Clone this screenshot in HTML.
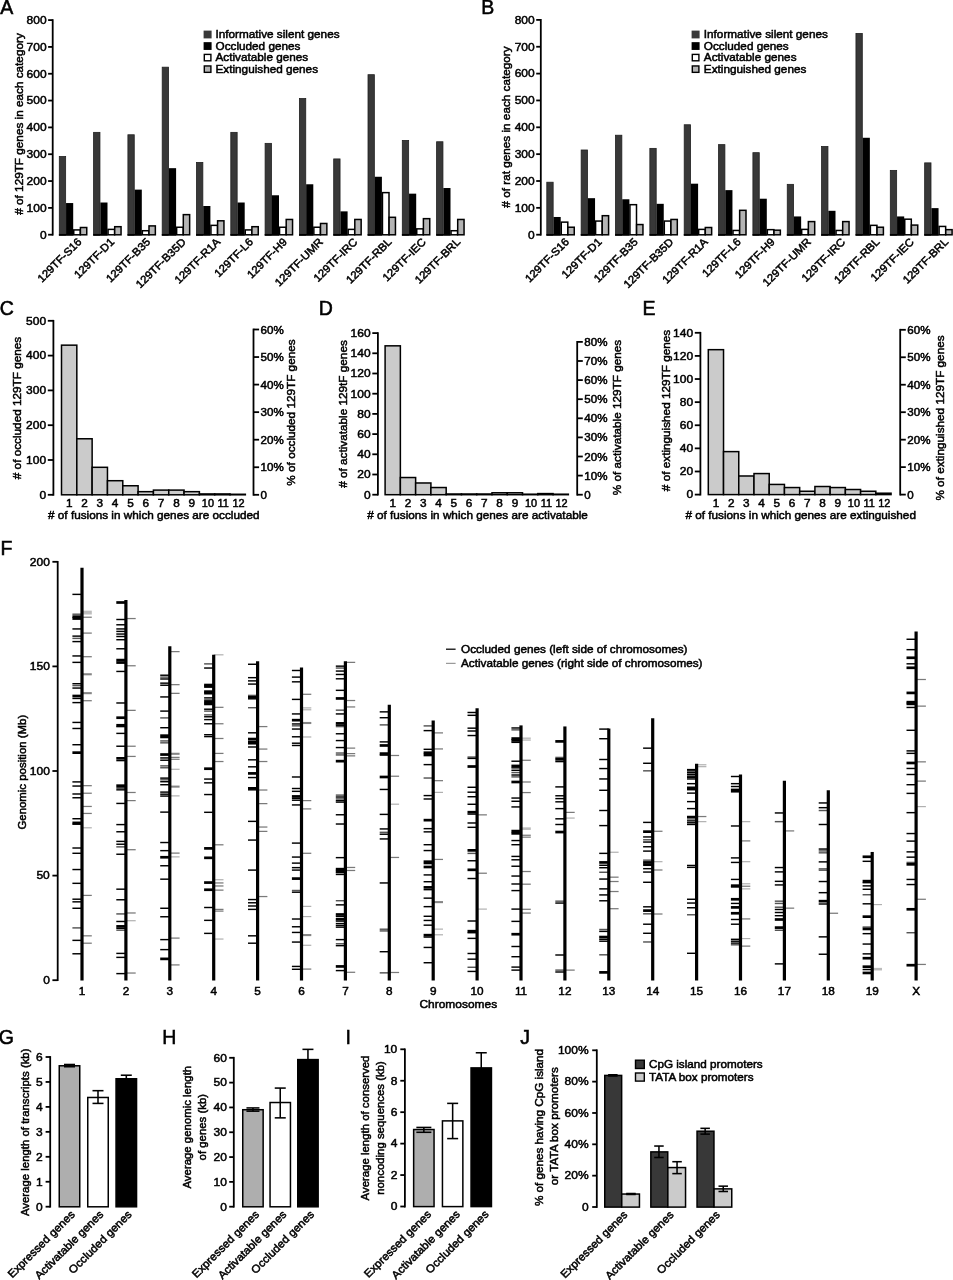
<!DOCTYPE html>
<html><head><meta charset="utf-8"><title>Figure</title>
<style>
html,body{margin:0;padding:0;background:#fff;}
svg{display:block;will-change:transform;filter:grayscale(1);}
text{font-family:"Liberation Sans",sans-serif;font-size:11.19px;fill:#000;stroke:#000;stroke-width:0.5px;}
text.pl{stroke-width:0.55px;}
</style></head><body>
<svg width="953" height="1280" viewBox="0 0 953 1280">
<rect x="0" y="0" width="953" height="1280" fill="#fff"/>
<text transform="translate(0.20 13.50)" style="font-size:19.50px" text-anchor="start" class="pl">A</text>
<rect x="59.30" y="156.50" width="6.35" height="79.05" fill="#383838" stroke="#202020" stroke-width="0.8"/>
<rect x="66.05" y="203.05" width="7.15" height="32.50" fill="#000"/>
<rect x="73.75" y="229.92" width="6.55" height="4.88" fill="#fff" stroke="#000" stroke-width="1.5"/>
<rect x="80.40" y="227.51" width="6.35" height="7.29" fill="#b4b4b4" stroke="#000" stroke-width="1.5"/>
<line x1="58.90" y1="234.75" x2="73.20" y2="234.75" stroke="#000" stroke-width="1.6"/>
<text transform="translate(82.30 242.60) rotate(-45) scale(1.0500 1)" style="font-size:10.90px" text-anchor="end">129TF-S16</text>
<rect x="93.60" y="132.36" width="6.35" height="103.19" fill="#383838" stroke="#202020" stroke-width="0.8"/>
<rect x="100.35" y="202.51" width="7.15" height="33.04" fill="#000"/>
<rect x="108.05" y="229.38" width="6.55" height="5.41" fill="#fff" stroke="#000" stroke-width="1.5"/>
<rect x="114.70" y="226.70" width="6.35" height="8.10" fill="#b4b4b4" stroke="#000" stroke-width="1.5"/>
<line x1="93.20" y1="234.75" x2="107.50" y2="234.75" stroke="#000" stroke-width="1.6"/>
<text transform="translate(114.90 242.60) rotate(-45) scale(1.0500 1)" style="font-size:10.90px" text-anchor="end">129TF-D1</text>
<rect x="127.90" y="134.77" width="6.35" height="100.78" fill="#383838" stroke="#202020" stroke-width="0.8"/>
<rect x="134.65" y="189.63" width="7.15" height="45.92" fill="#000"/>
<rect x="142.35" y="230.73" width="6.55" height="4.07" fill="#fff" stroke="#000" stroke-width="1.5"/>
<rect x="149.00" y="225.90" width="6.35" height="8.90" fill="#b4b4b4" stroke="#000" stroke-width="1.5"/>
<line x1="127.50" y1="234.75" x2="141.80" y2="234.75" stroke="#000" stroke-width="1.6"/>
<text transform="translate(151.00 242.60) rotate(-45) scale(1.0500 1)" style="font-size:10.90px" text-anchor="end">129TF-B35</text>
<rect x="162.20" y="67.18" width="6.35" height="168.37" fill="#383838" stroke="#202020" stroke-width="0.8"/>
<rect x="168.95" y="168.17" width="7.15" height="67.38" fill="#000"/>
<rect x="176.65" y="227.24" width="6.55" height="7.56" fill="#fff" stroke="#000" stroke-width="1.5"/>
<rect x="183.30" y="214.63" width="6.35" height="20.17" fill="#b4b4b4" stroke="#000" stroke-width="1.5"/>
<line x1="161.80" y1="234.75" x2="176.10" y2="234.75" stroke="#000" stroke-width="1.6"/>
<text transform="translate(186.50 242.60) rotate(-45) scale(1.0500 1)" style="font-size:10.90px" text-anchor="end">129TF-B35D</text>
<rect x="196.50" y="162.40" width="6.35" height="73.15" fill="#383838" stroke="#202020" stroke-width="0.8"/>
<rect x="203.25" y="206.00" width="7.15" height="29.55" fill="#000"/>
<rect x="210.95" y="225.36" width="6.55" height="9.44" fill="#fff" stroke="#000" stroke-width="1.5"/>
<rect x="217.60" y="220.80" width="6.35" height="14.00" fill="#b4b4b4" stroke="#000" stroke-width="1.5"/>
<line x1="196.10" y1="234.75" x2="210.40" y2="234.75" stroke="#000" stroke-width="1.6"/>
<text transform="translate(220.80 242.60) rotate(-45) scale(1.0500 1)" style="font-size:10.90px" text-anchor="end">129TF-R1A</text>
<rect x="230.80" y="132.36" width="6.35" height="103.19" fill="#383838" stroke="#202020" stroke-width="0.8"/>
<rect x="237.55" y="202.51" width="7.15" height="33.04" fill="#000"/>
<rect x="245.25" y="229.92" width="6.55" height="4.88" fill="#fff" stroke="#000" stroke-width="1.5"/>
<rect x="251.90" y="226.70" width="6.35" height="8.10" fill="#b4b4b4" stroke="#000" stroke-width="1.5"/>
<line x1="230.40" y1="234.75" x2="244.70" y2="234.75" stroke="#000" stroke-width="1.6"/>
<text transform="translate(253.80 242.60) rotate(-45) scale(1.0500 1)" style="font-size:10.90px" text-anchor="end">129TF-L6</text>
<rect x="265.10" y="143.36" width="6.35" height="92.19" fill="#383838" stroke="#202020" stroke-width="0.8"/>
<rect x="271.85" y="195.27" width="7.15" height="40.28" fill="#000"/>
<rect x="279.55" y="227.24" width="6.55" height="7.56" fill="#fff" stroke="#000" stroke-width="1.5"/>
<rect x="286.20" y="219.46" width="6.35" height="15.34" fill="#b4b4b4" stroke="#000" stroke-width="1.5"/>
<line x1="264.70" y1="234.75" x2="279.00" y2="234.75" stroke="#000" stroke-width="1.6"/>
<text transform="translate(287.80 242.60) rotate(-45) scale(1.0500 1)" style="font-size:10.90px" text-anchor="end">129TF-H9</text>
<rect x="299.40" y="98.56" width="6.35" height="136.99" fill="#383838" stroke="#202020" stroke-width="0.8"/>
<rect x="306.15" y="184.27" width="7.15" height="51.28" fill="#000"/>
<rect x="313.85" y="227.24" width="6.55" height="7.56" fill="#fff" stroke="#000" stroke-width="1.5"/>
<rect x="320.50" y="223.48" width="6.35" height="11.32" fill="#b4b4b4" stroke="#000" stroke-width="1.5"/>
<line x1="299.00" y1="234.75" x2="313.30" y2="234.75" stroke="#000" stroke-width="1.6"/>
<text transform="translate(323.70 242.60) rotate(-45) scale(1.0500 1)" style="font-size:10.90px" text-anchor="end">129TF-UMR</text>
<rect x="333.70" y="158.92" width="6.35" height="76.63" fill="#383838" stroke="#202020" stroke-width="0.8"/>
<rect x="340.45" y="211.36" width="7.15" height="24.19" fill="#000"/>
<rect x="348.15" y="229.38" width="6.55" height="5.41" fill="#fff" stroke="#000" stroke-width="1.5"/>
<rect x="354.80" y="219.46" width="6.35" height="15.34" fill="#b4b4b4" stroke="#000" stroke-width="1.5"/>
<line x1="333.30" y1="234.75" x2="347.60" y2="234.75" stroke="#000" stroke-width="1.6"/>
<text transform="translate(358.00 242.60) rotate(-45) scale(1.0500 1)" style="font-size:10.90px" text-anchor="end">129TF-IRC</text>
<rect x="368.00" y="74.69" width="6.35" height="160.86" fill="#383838" stroke="#202020" stroke-width="0.8"/>
<rect x="374.75" y="176.76" width="7.15" height="58.79" fill="#000"/>
<rect x="382.45" y="192.63" width="6.55" height="42.17" fill="#fff" stroke="#000" stroke-width="1.5"/>
<rect x="389.10" y="217.31" width="6.35" height="17.49" fill="#b4b4b4" stroke="#000" stroke-width="1.5"/>
<line x1="367.60" y1="234.75" x2="381.90" y2="234.75" stroke="#000" stroke-width="1.6"/>
<text transform="translate(392.30 242.60) rotate(-45) scale(1.0500 1)" style="font-size:10.90px" text-anchor="end">129TF-RBL</text>
<rect x="402.30" y="140.41" width="6.35" height="95.14" fill="#383838" stroke="#202020" stroke-width="0.8"/>
<rect x="409.05" y="193.66" width="7.15" height="41.89" fill="#000"/>
<rect x="416.75" y="228.85" width="6.55" height="5.95" fill="#fff" stroke="#000" stroke-width="1.5"/>
<rect x="423.40" y="218.66" width="6.35" height="16.14" fill="#b4b4b4" stroke="#000" stroke-width="1.5"/>
<line x1="401.90" y1="234.75" x2="416.20" y2="234.75" stroke="#000" stroke-width="1.6"/>
<text transform="translate(426.60 242.60) rotate(-45) scale(1.0500 1)" style="font-size:10.90px" text-anchor="end">129TF-IEC</text>
<rect x="436.60" y="141.75" width="6.35" height="93.80" fill="#383838" stroke="#202020" stroke-width="0.8"/>
<rect x="443.35" y="188.02" width="7.15" height="47.53" fill="#000"/>
<rect x="451.05" y="230.73" width="6.55" height="4.07" fill="#fff" stroke="#000" stroke-width="1.5"/>
<rect x="457.70" y="219.46" width="6.35" height="15.34" fill="#b4b4b4" stroke="#000" stroke-width="1.5"/>
<line x1="436.20" y1="234.75" x2="450.50" y2="234.75" stroke="#000" stroke-width="1.6"/>
<text transform="translate(460.90 242.60) rotate(-45) scale(1.0500 1)" style="font-size:10.90px" text-anchor="end">129TF-BRL</text>
<line x1="52.70" y1="19.20" x2="52.70" y2="235.60" stroke="#000" stroke-width="1.8"/>
<line x1="48.10" y1="234.70" x2="52.70" y2="234.70" stroke="#000" stroke-width="1.8"/>
<text transform="translate(46.60 238.50) scale(1.0500 1)" style="font-size:11.43px" text-anchor="end">0</text>
<line x1="48.10" y1="207.88" x2="52.70" y2="207.88" stroke="#000" stroke-width="1.8"/>
<text transform="translate(46.60 211.68) scale(1.0500 1)" style="font-size:11.43px" text-anchor="end">100</text>
<line x1="48.10" y1="181.05" x2="52.70" y2="181.05" stroke="#000" stroke-width="1.8"/>
<text transform="translate(46.60 184.85) scale(1.0500 1)" style="font-size:11.43px" text-anchor="end">200</text>
<line x1="48.10" y1="154.22" x2="52.70" y2="154.22" stroke="#000" stroke-width="1.8"/>
<text transform="translate(46.60 158.03) scale(1.0500 1)" style="font-size:11.43px" text-anchor="end">300</text>
<line x1="48.10" y1="127.40" x2="52.70" y2="127.40" stroke="#000" stroke-width="1.8"/>
<text transform="translate(46.60 131.20) scale(1.0500 1)" style="font-size:11.43px" text-anchor="end">400</text>
<line x1="48.10" y1="100.57" x2="52.70" y2="100.57" stroke="#000" stroke-width="1.8"/>
<text transform="translate(46.60 104.37) scale(1.0500 1)" style="font-size:11.43px" text-anchor="end">500</text>
<line x1="48.10" y1="73.75" x2="52.70" y2="73.75" stroke="#000" stroke-width="1.8"/>
<text transform="translate(46.60 77.55) scale(1.0500 1)" style="font-size:11.43px" text-anchor="end">600</text>
<line x1="48.10" y1="46.92" x2="52.70" y2="46.92" stroke="#000" stroke-width="1.8"/>
<text transform="translate(46.60 50.72) scale(1.0500 1)" style="font-size:11.43px" text-anchor="end">700</text>
<line x1="48.10" y1="20.10" x2="52.70" y2="20.10" stroke="#000" stroke-width="1.8"/>
<text transform="translate(46.60 23.90) scale(1.0500 1)" style="font-size:11.43px" text-anchor="end">800</text>
<text transform="translate(22.60 124.00) rotate(-90) scale(1.0500 1)" text-anchor="middle"># of 129TF genes in each category</text>
<rect x="203.60" y="30.60" width="8.00" height="7.80" fill="#383838"/>
<text transform="translate(215.50 38.35) scale(1.0500 1)" text-anchor="start">Informative silent genes</text>
<rect x="203.60" y="42.15" width="8.00" height="7.80" fill="#000"/>
<text transform="translate(215.50 49.90) scale(1.0500 1)" text-anchor="start">Occluded genes</text>
<rect x="204.30" y="54.40" width="6.60" height="6.40" fill="#fff" stroke="#000" stroke-width="1.4"/>
<text transform="translate(215.50 61.45) scale(1.0500 1)" text-anchor="start">Activatable genes</text>
<rect x="204.30" y="65.95" width="6.60" height="6.40" fill="#b4b4b4" stroke="#000" stroke-width="1.4"/>
<text transform="translate(215.50 73.00) scale(1.0500 1)" text-anchor="start">Extinguished genes</text>
<text transform="translate(481.20 13.60)" style="font-size:19.50px" text-anchor="start" class="pl">B</text>
<rect x="546.80" y="182.21" width="6.35" height="53.34" fill="#383838" stroke="#202020" stroke-width="0.8"/>
<rect x="553.55" y="216.98" width="7.15" height="18.57" fill="#000"/>
<rect x="561.25" y="222.13" width="6.55" height="12.67" fill="#fff" stroke="#000" stroke-width="1.5"/>
<rect x="567.90" y="227.23" width="6.35" height="7.57" fill="#b4b4b4" stroke="#000" stroke-width="1.5"/>
<line x1="546.40" y1="234.75" x2="560.70" y2="234.75" stroke="#000" stroke-width="1.6"/>
<text transform="translate(569.80 242.60) rotate(-45) scale(1.0500 1)" style="font-size:10.90px" text-anchor="end">129TF-S16</text>
<rect x="581.15" y="149.99" width="6.35" height="85.56" fill="#383838" stroke="#202020" stroke-width="0.8"/>
<rect x="587.90" y="198.18" width="7.15" height="37.37" fill="#000"/>
<rect x="595.60" y="221.06" width="6.55" height="13.74" fill="#fff" stroke="#000" stroke-width="1.5"/>
<rect x="602.25" y="215.69" width="6.35" height="19.11" fill="#b4b4b4" stroke="#000" stroke-width="1.5"/>
<line x1="580.75" y1="234.75" x2="595.05" y2="234.75" stroke="#000" stroke-width="1.6"/>
<text transform="translate(602.45 242.60) rotate(-45) scale(1.0500 1)" style="font-size:10.90px" text-anchor="end">129TF-D1</text>
<rect x="615.50" y="135.22" width="6.35" height="100.33" fill="#383838" stroke="#202020" stroke-width="0.8"/>
<rect x="622.25" y="199.26" width="7.15" height="36.29" fill="#000"/>
<rect x="629.95" y="204.68" width="6.55" height="30.12" fill="#fff" stroke="#000" stroke-width="1.5"/>
<rect x="636.60" y="224.55" width="6.35" height="10.25" fill="#b4b4b4" stroke="#000" stroke-width="1.5"/>
<line x1="615.10" y1="234.75" x2="629.40" y2="234.75" stroke="#000" stroke-width="1.6"/>
<text transform="translate(638.60 242.60) rotate(-45) scale(1.0500 1)" style="font-size:10.90px" text-anchor="end">129TF-B35</text>
<rect x="649.85" y="148.37" width="6.35" height="87.18" fill="#383838" stroke="#202020" stroke-width="0.8"/>
<rect x="656.60" y="203.82" width="7.15" height="31.73" fill="#000"/>
<rect x="664.30" y="221.06" width="6.55" height="13.74" fill="#fff" stroke="#000" stroke-width="1.5"/>
<rect x="670.95" y="219.45" width="6.35" height="15.35" fill="#b4b4b4" stroke="#000" stroke-width="1.5"/>
<line x1="649.45" y1="234.75" x2="663.75" y2="234.75" stroke="#000" stroke-width="1.6"/>
<text transform="translate(674.15 242.60) rotate(-45) scale(1.0500 1)" style="font-size:10.90px" text-anchor="end">129TF-B35D</text>
<rect x="684.20" y="124.75" width="6.35" height="110.80" fill="#383838" stroke="#202020" stroke-width="0.8"/>
<rect x="690.95" y="183.69" width="7.15" height="51.86" fill="#000"/>
<rect x="698.65" y="229.38" width="6.55" height="5.42" fill="#fff" stroke="#000" stroke-width="1.5"/>
<rect x="705.30" y="227.50" width="6.35" height="7.30" fill="#b4b4b4" stroke="#000" stroke-width="1.5"/>
<line x1="683.80" y1="234.75" x2="698.10" y2="234.75" stroke="#000" stroke-width="1.6"/>
<text transform="translate(708.50 242.60) rotate(-45) scale(1.0500 1)" style="font-size:10.90px" text-anchor="end">129TF-R1A</text>
<rect x="718.55" y="144.62" width="6.35" height="90.93" fill="#383838" stroke="#202020" stroke-width="0.8"/>
<rect x="725.30" y="190.13" width="7.15" height="45.42" fill="#000"/>
<rect x="733.00" y="230.45" width="6.55" height="4.35" fill="#fff" stroke="#000" stroke-width="1.5"/>
<rect x="739.65" y="210.32" width="6.35" height="24.48" fill="#b4b4b4" stroke="#000" stroke-width="1.5"/>
<line x1="718.15" y1="234.75" x2="732.45" y2="234.75" stroke="#000" stroke-width="1.6"/>
<text transform="translate(741.55 242.60) rotate(-45) scale(1.0500 1)" style="font-size:10.90px" text-anchor="end">129TF-L6</text>
<rect x="752.90" y="152.67" width="6.35" height="82.88" fill="#383838" stroke="#202020" stroke-width="0.8"/>
<rect x="759.65" y="198.72" width="7.15" height="36.83" fill="#000"/>
<rect x="767.35" y="229.65" width="6.55" height="5.15" fill="#fff" stroke="#000" stroke-width="1.5"/>
<rect x="774.00" y="230.19" width="6.35" height="4.61" fill="#b4b4b4" stroke="#000" stroke-width="1.5"/>
<line x1="752.50" y1="234.75" x2="766.80" y2="234.75" stroke="#000" stroke-width="1.6"/>
<text transform="translate(775.60 242.60) rotate(-45) scale(1.0500 1)" style="font-size:10.90px" text-anchor="end">129TF-H9</text>
<rect x="787.25" y="184.35" width="6.35" height="51.20" fill="#383838" stroke="#202020" stroke-width="0.8"/>
<rect x="794.00" y="216.44" width="7.15" height="19.11" fill="#000"/>
<rect x="801.70" y="229.38" width="6.55" height="5.42" fill="#fff" stroke="#000" stroke-width="1.5"/>
<rect x="808.35" y="221.59" width="6.35" height="13.21" fill="#b4b4b4" stroke="#000" stroke-width="1.5"/>
<line x1="786.85" y1="234.75" x2="801.15" y2="234.75" stroke="#000" stroke-width="1.6"/>
<text transform="translate(811.55 242.60) rotate(-45) scale(1.0500 1)" style="font-size:10.90px" text-anchor="end">129TF-UMR</text>
<rect x="821.60" y="146.50" width="6.35" height="89.05" fill="#383838" stroke="#202020" stroke-width="0.8"/>
<rect x="828.35" y="210.80" width="7.15" height="24.75" fill="#000"/>
<rect x="836.05" y="230.45" width="6.55" height="4.35" fill="#fff" stroke="#000" stroke-width="1.5"/>
<rect x="842.70" y="221.59" width="6.35" height="13.21" fill="#b4b4b4" stroke="#000" stroke-width="1.5"/>
<line x1="821.20" y1="234.75" x2="835.50" y2="234.75" stroke="#000" stroke-width="1.6"/>
<text transform="translate(845.90 242.60) rotate(-45) scale(1.0500 1)" style="font-size:10.90px" text-anchor="end">129TF-IRC</text>
<rect x="855.95" y="33.46" width="6.35" height="202.09" fill="#383838" stroke="#202020" stroke-width="0.8"/>
<rect x="862.70" y="137.77" width="7.15" height="97.78" fill="#000"/>
<rect x="870.40" y="225.35" width="6.55" height="9.45" fill="#fff" stroke="#000" stroke-width="1.5"/>
<rect x="877.05" y="227.23" width="6.35" height="7.57" fill="#b4b4b4" stroke="#000" stroke-width="1.5"/>
<line x1="855.55" y1="234.75" x2="869.85" y2="234.75" stroke="#000" stroke-width="1.6"/>
<text transform="translate(880.25 242.60) rotate(-45) scale(1.0500 1)" style="font-size:10.90px" text-anchor="end">129TF-RBL</text>
<rect x="890.30" y="170.39" width="6.35" height="65.16" fill="#383838" stroke="#202020" stroke-width="0.8"/>
<rect x="897.05" y="216.44" width="7.15" height="19.11" fill="#000"/>
<rect x="904.75" y="219.18" width="6.55" height="15.62" fill="#fff" stroke="#000" stroke-width="1.5"/>
<rect x="911.40" y="225.08" width="6.35" height="9.72" fill="#b4b4b4" stroke="#000" stroke-width="1.5"/>
<line x1="889.90" y1="234.75" x2="904.20" y2="234.75" stroke="#000" stroke-width="1.6"/>
<text transform="translate(914.60 242.60) rotate(-45) scale(1.0500 1)" style="font-size:10.90px" text-anchor="end">129TF-IEC</text>
<rect x="924.65" y="162.87" width="6.35" height="72.68" fill="#383838" stroke="#202020" stroke-width="0.8"/>
<rect x="931.40" y="208.12" width="7.15" height="27.43" fill="#000"/>
<rect x="939.10" y="226.43" width="6.55" height="8.37" fill="#fff" stroke="#000" stroke-width="1.5"/>
<rect x="945.75" y="229.65" width="6.35" height="5.15" fill="#b4b4b4" stroke="#000" stroke-width="1.5"/>
<line x1="924.25" y1="234.75" x2="938.55" y2="234.75" stroke="#000" stroke-width="1.6"/>
<text transform="translate(948.95 242.60) rotate(-45) scale(1.0500 1)" style="font-size:10.90px" text-anchor="end">129TF-BRL</text>
<line x1="540.80" y1="19.00" x2="540.80" y2="235.60" stroke="#000" stroke-width="1.8"/>
<line x1="536.20" y1="234.70" x2="540.80" y2="234.70" stroke="#000" stroke-width="1.8"/>
<text transform="translate(534.70 238.50) scale(1.0500 1)" style="font-size:11.43px" text-anchor="end">0</text>
<line x1="536.20" y1="207.85" x2="540.80" y2="207.85" stroke="#000" stroke-width="1.8"/>
<text transform="translate(534.70 211.65) scale(1.0500 1)" style="font-size:11.43px" text-anchor="end">100</text>
<line x1="536.20" y1="181.00" x2="540.80" y2="181.00" stroke="#000" stroke-width="1.8"/>
<text transform="translate(534.70 184.80) scale(1.0500 1)" style="font-size:11.43px" text-anchor="end">200</text>
<line x1="536.20" y1="154.15" x2="540.80" y2="154.15" stroke="#000" stroke-width="1.8"/>
<text transform="translate(534.70 157.95) scale(1.0500 1)" style="font-size:11.43px" text-anchor="end">300</text>
<line x1="536.20" y1="127.30" x2="540.80" y2="127.30" stroke="#000" stroke-width="1.8"/>
<text transform="translate(534.70 131.10) scale(1.0500 1)" style="font-size:11.43px" text-anchor="end">400</text>
<line x1="536.20" y1="100.45" x2="540.80" y2="100.45" stroke="#000" stroke-width="1.8"/>
<text transform="translate(534.70 104.25) scale(1.0500 1)" style="font-size:11.43px" text-anchor="end">500</text>
<line x1="536.20" y1="73.60" x2="540.80" y2="73.60" stroke="#000" stroke-width="1.8"/>
<text transform="translate(534.70 77.40) scale(1.0500 1)" style="font-size:11.43px" text-anchor="end">600</text>
<line x1="536.20" y1="46.75" x2="540.80" y2="46.75" stroke="#000" stroke-width="1.8"/>
<text transform="translate(534.70 50.55) scale(1.0500 1)" style="font-size:11.43px" text-anchor="end">700</text>
<line x1="536.20" y1="19.90" x2="540.80" y2="19.90" stroke="#000" stroke-width="1.8"/>
<text transform="translate(534.70 23.70) scale(1.0500 1)" style="font-size:11.43px" text-anchor="end">800</text>
<text transform="translate(510.40 127.00) rotate(-90) scale(1.0500 1)" text-anchor="middle"># of rat genes in each category</text>
<rect x="691.60" y="30.60" width="8.00" height="7.80" fill="#383838"/>
<text transform="translate(703.80 38.35) scale(1.0500 1)" text-anchor="start">Informative silent genes</text>
<rect x="691.60" y="42.15" width="8.00" height="7.80" fill="#000"/>
<text transform="translate(703.80 49.90) scale(1.0500 1)" text-anchor="start">Occluded genes</text>
<rect x="692.30" y="54.40" width="6.60" height="6.40" fill="#fff" stroke="#000" stroke-width="1.4"/>
<text transform="translate(703.80 61.45) scale(1.0500 1)" text-anchor="start">Activatable genes</text>
<rect x="692.30" y="65.95" width="6.60" height="6.40" fill="#b4b4b4" stroke="#000" stroke-width="1.4"/>
<text transform="translate(703.80 73.00) scale(1.0500 1)" text-anchor="start">Extinguished genes</text>
<text transform="translate(-0.30 315.30)" style="font-size:19.50px" text-anchor="start" class="pl">C</text>
<rect x="61.50" y="345.16" width="15.32" height="149.64" fill="#cbcbcb" stroke="#000" stroke-width="1.5"/>
<text transform="translate(69.16 506.70) scale(1.0500 1)" text-anchor="middle">1</text>
<rect x="76.82" y="438.77" width="15.32" height="56.03" fill="#cbcbcb" stroke="#000" stroke-width="1.5"/>
<text transform="translate(84.48 506.70) scale(1.0500 1)" text-anchor="middle">2</text>
<rect x="92.14" y="467.31" width="15.32" height="27.49" fill="#cbcbcb" stroke="#000" stroke-width="1.5"/>
<text transform="translate(99.80 506.70) scale(1.0500 1)" text-anchor="middle">3</text>
<rect x="107.46" y="480.71" width="15.32" height="14.09" fill="#cbcbcb" stroke="#000" stroke-width="1.5"/>
<text transform="translate(115.12 506.70) scale(1.0500 1)" text-anchor="middle">4</text>
<rect x="122.78" y="485.75" width="15.32" height="9.05" fill="#cbcbcb" stroke="#000" stroke-width="1.5"/>
<text transform="translate(130.44 506.70) scale(1.0500 1)" text-anchor="middle">5</text>
<rect x="138.10" y="491.67" width="15.32" height="3.13" fill="#cbcbcb" stroke="#000" stroke-width="1.5"/>
<text transform="translate(145.76 506.70) scale(1.0500 1)" text-anchor="middle">6</text>
<rect x="153.42" y="490.10" width="15.32" height="4.70" fill="#cbcbcb" stroke="#000" stroke-width="1.5"/>
<text transform="translate(161.08 506.70) scale(1.0500 1)" text-anchor="middle">7</text>
<rect x="168.74" y="490.10" width="15.32" height="4.70" fill="#cbcbcb" stroke="#000" stroke-width="1.5"/>
<text transform="translate(176.40 506.70) scale(1.0500 1)" text-anchor="middle">8</text>
<rect x="184.06" y="491.67" width="15.32" height="3.13" fill="#cbcbcb" stroke="#000" stroke-width="1.5"/>
<text transform="translate(191.72 506.70) scale(1.0500 1)" text-anchor="middle">9</text>
<rect x="199.38" y="493.93" width="15.32" height="0.87" fill="#cbcbcb" stroke="#000" stroke-width="1.5"/>
<text transform="translate(207.94 506.70) scale(0.9765 1)" text-anchor="middle">10</text>
<rect x="214.70" y="493.93" width="15.32" height="0.87" fill="#cbcbcb" stroke="#000" stroke-width="1.5"/>
<text transform="translate(223.26 506.70) scale(0.9765 1)" text-anchor="middle">11</text>
<rect x="230.02" y="494.28" width="15.32" height="0.52" fill="#cbcbcb" stroke="#000" stroke-width="1.5"/>
<text transform="translate(238.58 506.70) scale(0.9765 1)" text-anchor="middle">12</text>
<line x1="53.40" y1="319.90" x2="53.40" y2="495.70" stroke="#000" stroke-width="1.8"/>
<line x1="47.80" y1="494.80" x2="53.40" y2="494.80" stroke="#000" stroke-width="1.8"/>
<text transform="translate(46.10 498.60) scale(1.0500 1)" style="font-size:11.43px" text-anchor="end">0</text>
<line x1="47.80" y1="460.00" x2="53.40" y2="460.00" stroke="#000" stroke-width="1.8"/>
<text transform="translate(46.10 463.80) scale(1.0500 1)" style="font-size:11.43px" text-anchor="end">100</text>
<line x1="47.80" y1="425.20" x2="53.40" y2="425.20" stroke="#000" stroke-width="1.8"/>
<text transform="translate(46.10 429.00) scale(1.0500 1)" style="font-size:11.43px" text-anchor="end">200</text>
<line x1="47.80" y1="390.40" x2="53.40" y2="390.40" stroke="#000" stroke-width="1.8"/>
<text transform="translate(46.10 394.20) scale(1.0500 1)" style="font-size:11.43px" text-anchor="end">300</text>
<line x1="47.80" y1="355.60" x2="53.40" y2="355.60" stroke="#000" stroke-width="1.8"/>
<text transform="translate(46.10 359.40) scale(1.0500 1)" style="font-size:11.43px" text-anchor="end">400</text>
<line x1="47.80" y1="320.80" x2="53.40" y2="320.80" stroke="#000" stroke-width="1.8"/>
<text transform="translate(46.10 324.60) scale(1.0500 1)" style="font-size:11.43px" text-anchor="end">500</text>
<line x1="253.50" y1="328.60" x2="253.50" y2="495.70" stroke="#000" stroke-width="1.8"/>
<line x1="253.50" y1="494.80" x2="259.10" y2="494.80" stroke="#000" stroke-width="1.8"/>
<text transform="translate(260.60 498.80) scale(1.0500 1)" style="font-size:11.05px" text-anchor="start">0</text>
<line x1="253.50" y1="467.25" x2="259.10" y2="467.25" stroke="#000" stroke-width="1.8"/>
<text transform="translate(260.60 471.25) scale(1.0500 1)" style="font-size:11.05px" text-anchor="start">10%</text>
<line x1="253.50" y1="439.70" x2="259.10" y2="439.70" stroke="#000" stroke-width="1.8"/>
<text transform="translate(260.60 443.70) scale(1.0500 1)" style="font-size:11.05px" text-anchor="start">20%</text>
<line x1="253.50" y1="412.15" x2="259.10" y2="412.15" stroke="#000" stroke-width="1.8"/>
<text transform="translate(260.60 416.15) scale(1.0500 1)" style="font-size:11.05px" text-anchor="start">30%</text>
<line x1="253.50" y1="384.60" x2="259.10" y2="384.60" stroke="#000" stroke-width="1.8"/>
<text transform="translate(260.60 388.60) scale(1.0500 1)" style="font-size:11.05px" text-anchor="start">40%</text>
<line x1="253.50" y1="357.05" x2="259.10" y2="357.05" stroke="#000" stroke-width="1.8"/>
<text transform="translate(260.60 361.05) scale(1.0500 1)" style="font-size:11.05px" text-anchor="start">50%</text>
<line x1="253.50" y1="329.50" x2="259.10" y2="329.50" stroke="#000" stroke-width="1.8"/>
<text transform="translate(260.60 333.50) scale(1.0500 1)" style="font-size:11.05px" text-anchor="start">60%</text>
<text transform="translate(20.70 408.00) rotate(-90) scale(1.0500 1)" text-anchor="middle"># of occluded 129TF genes</text>
<text transform="translate(295.20 412.50) rotate(-90) scale(1.0500 1)" text-anchor="middle">% of occluded 129TF genes</text>
<text transform="translate(153.80 518.90) scale(1.0500 1)" text-anchor="middle"># of fusions in which genes are occluded</text>
<text transform="translate(318.80 315.30)" style="font-size:19.50px" text-anchor="start" class="pl">D</text>
<rect x="385.10" y="345.83" width="15.27" height="148.87" fill="#cbcbcb" stroke="#000" stroke-width="1.5"/>
<text transform="translate(392.74 506.60) scale(1.0500 1)" text-anchor="middle">1</text>
<rect x="400.37" y="477.53" width="15.27" height="17.17" fill="#cbcbcb" stroke="#000" stroke-width="1.5"/>
<text transform="translate(408.00 506.60) scale(1.0500 1)" text-anchor="middle">2</text>
<rect x="415.64" y="482.98" width="15.27" height="11.72" fill="#cbcbcb" stroke="#000" stroke-width="1.5"/>
<text transform="translate(423.28 506.60) scale(1.0500 1)" text-anchor="middle">3</text>
<rect x="430.91" y="487.53" width="15.27" height="7.17" fill="#cbcbcb" stroke="#000" stroke-width="1.5"/>
<text transform="translate(438.55 506.60) scale(1.0500 1)" text-anchor="middle">4</text>
<rect x="446.18" y="493.99" width="15.27" height="0.71" fill="#cbcbcb" stroke="#000" stroke-width="1.5"/>
<text transform="translate(453.82 506.60) scale(1.0500 1)" text-anchor="middle">5</text>
<rect x="461.45" y="493.99" width="15.27" height="0.71" fill="#cbcbcb" stroke="#000" stroke-width="1.5"/>
<text transform="translate(469.09 506.60) scale(1.0500 1)" text-anchor="middle">6</text>
<rect x="476.72" y="493.99" width="15.27" height="0.71" fill="#cbcbcb" stroke="#000" stroke-width="1.5"/>
<text transform="translate(484.36 506.60) scale(1.0500 1)" text-anchor="middle">7</text>
<rect x="491.99" y="492.78" width="15.27" height="1.92" fill="#cbcbcb" stroke="#000" stroke-width="1.5"/>
<text transform="translate(499.62 506.60) scale(1.0500 1)" text-anchor="middle">8</text>
<rect x="507.26" y="492.78" width="15.27" height="1.92" fill="#cbcbcb" stroke="#000" stroke-width="1.5"/>
<text transform="translate(514.89 506.60) scale(1.0500 1)" text-anchor="middle">9</text>
<rect x="522.53" y="494.20" width="15.27" height="0.50" fill="#cbcbcb" stroke="#000" stroke-width="1.5"/>
<text transform="translate(531.06 506.60) scale(0.9765 1)" text-anchor="middle">10</text>
<rect x="537.80" y="493.59" width="15.27" height="1.11" fill="#cbcbcb" stroke="#000" stroke-width="1.5"/>
<text transform="translate(546.34 506.60) scale(0.9765 1)" text-anchor="middle">11</text>
<rect x="553.07" y="494.20" width="15.27" height="0.50" fill="#cbcbcb" stroke="#000" stroke-width="1.5"/>
<text transform="translate(561.61 506.60) scale(0.9765 1)" text-anchor="middle">12</text>
<line x1="377.90" y1="332.20" x2="377.90" y2="495.60" stroke="#000" stroke-width="1.8"/>
<line x1="372.30" y1="494.70" x2="377.90" y2="494.70" stroke="#000" stroke-width="1.8"/>
<text transform="translate(370.60 498.50) scale(1.0500 1)" style="font-size:11.43px" text-anchor="end">0</text>
<line x1="372.30" y1="474.50" x2="377.90" y2="474.50" stroke="#000" stroke-width="1.8"/>
<text transform="translate(370.60 478.30) scale(1.0500 1)" style="font-size:11.43px" text-anchor="end">20</text>
<line x1="372.30" y1="454.30" x2="377.90" y2="454.30" stroke="#000" stroke-width="1.8"/>
<text transform="translate(370.60 458.10) scale(1.0500 1)" style="font-size:11.43px" text-anchor="end">40</text>
<line x1="372.30" y1="434.10" x2="377.90" y2="434.10" stroke="#000" stroke-width="1.8"/>
<text transform="translate(370.60 437.90) scale(1.0500 1)" style="font-size:11.43px" text-anchor="end">60</text>
<line x1="372.30" y1="413.90" x2="377.90" y2="413.90" stroke="#000" stroke-width="1.8"/>
<text transform="translate(370.60 417.70) scale(1.0500 1)" style="font-size:11.43px" text-anchor="end">80</text>
<line x1="372.30" y1="393.70" x2="377.90" y2="393.70" stroke="#000" stroke-width="1.8"/>
<text transform="translate(370.60 397.50) scale(1.0500 1)" style="font-size:11.43px" text-anchor="end">100</text>
<line x1="372.30" y1="373.50" x2="377.90" y2="373.50" stroke="#000" stroke-width="1.8"/>
<text transform="translate(370.60 377.30) scale(1.0500 1)" style="font-size:11.43px" text-anchor="end">120</text>
<line x1="372.30" y1="353.30" x2="377.90" y2="353.30" stroke="#000" stroke-width="1.8"/>
<text transform="translate(370.60 357.10) scale(1.0500 1)" style="font-size:11.43px" text-anchor="end">140</text>
<line x1="372.30" y1="333.10" x2="377.90" y2="333.10" stroke="#000" stroke-width="1.8"/>
<text transform="translate(370.60 336.90) scale(1.0500 1)" style="font-size:11.43px" text-anchor="end">160</text>
<line x1="577.20" y1="341.00" x2="577.20" y2="495.60" stroke="#000" stroke-width="1.8"/>
<line x1="577.20" y1="494.70" x2="582.80" y2="494.70" stroke="#000" stroke-width="1.8"/>
<text transform="translate(584.30 498.70) scale(1.0500 1)" style="font-size:11.05px" text-anchor="start">0</text>
<line x1="577.20" y1="475.60" x2="582.80" y2="475.60" stroke="#000" stroke-width="1.8"/>
<text transform="translate(584.30 479.60) scale(1.0500 1)" style="font-size:11.05px" text-anchor="start">10%</text>
<line x1="577.20" y1="456.50" x2="582.80" y2="456.50" stroke="#000" stroke-width="1.8"/>
<text transform="translate(584.30 460.50) scale(1.0500 1)" style="font-size:11.05px" text-anchor="start">20%</text>
<line x1="577.20" y1="437.40" x2="582.80" y2="437.40" stroke="#000" stroke-width="1.8"/>
<text transform="translate(584.30 441.40) scale(1.0500 1)" style="font-size:11.05px" text-anchor="start">30%</text>
<line x1="577.20" y1="418.30" x2="582.80" y2="418.30" stroke="#000" stroke-width="1.8"/>
<text transform="translate(584.30 422.30) scale(1.0500 1)" style="font-size:11.05px" text-anchor="start">40%</text>
<line x1="577.20" y1="399.20" x2="582.80" y2="399.20" stroke="#000" stroke-width="1.8"/>
<text transform="translate(584.30 403.20) scale(1.0500 1)" style="font-size:11.05px" text-anchor="start">50%</text>
<line x1="577.20" y1="380.10" x2="582.80" y2="380.10" stroke="#000" stroke-width="1.8"/>
<text transform="translate(584.30 384.10) scale(1.0500 1)" style="font-size:11.05px" text-anchor="start">60%</text>
<line x1="577.20" y1="361.00" x2="582.80" y2="361.00" stroke="#000" stroke-width="1.8"/>
<text transform="translate(584.30 365.00) scale(1.0500 1)" style="font-size:11.05px" text-anchor="start">70%</text>
<line x1="577.20" y1="341.90" x2="582.80" y2="341.90" stroke="#000" stroke-width="1.8"/>
<text transform="translate(584.30 345.90) scale(1.0500 1)" style="font-size:11.05px" text-anchor="start">80%</text>
<text transform="translate(346.90 414.00) rotate(-90) scale(1.0500 1)" text-anchor="middle"># of activatable 129tF genes</text>
<text transform="translate(621.00 417.50) rotate(-90) scale(1.0500 1)" text-anchor="middle">% of activatable 129TF genes</text>
<text transform="translate(477.50 518.80) scale(1.0500 1)" text-anchor="middle"># of fusions in which genes are activatable</text>
<text transform="translate(642.60 315.30)" style="font-size:19.50px" text-anchor="start" class="pl">E</text>
<rect x="708.30" y="349.67" width="15.23" height="144.93" fill="#cbcbcb" stroke="#000" stroke-width="1.5"/>
<text transform="translate(715.91 506.50) scale(1.0500 1)" text-anchor="middle">1</text>
<rect x="723.53" y="451.61" width="15.23" height="42.99" fill="#cbcbcb" stroke="#000" stroke-width="1.5"/>
<text transform="translate(731.14 506.50) scale(1.0500 1)" text-anchor="middle">2</text>
<rect x="738.76" y="475.99" width="15.23" height="18.61" fill="#cbcbcb" stroke="#000" stroke-width="1.5"/>
<text transform="translate(746.38 506.50) scale(1.0500 1)" text-anchor="middle">3</text>
<rect x="753.99" y="473.57" width="15.23" height="21.03" fill="#cbcbcb" stroke="#000" stroke-width="1.5"/>
<text transform="translate(761.60 506.50) scale(1.0500 1)" text-anchor="middle">4</text>
<rect x="769.22" y="484.43" width="15.23" height="10.17" fill="#cbcbcb" stroke="#000" stroke-width="1.5"/>
<text transform="translate(776.83 506.50) scale(1.0500 1)" text-anchor="middle">5</text>
<rect x="784.45" y="487.55" width="15.23" height="7.05" fill="#cbcbcb" stroke="#000" stroke-width="1.5"/>
<text transform="translate(792.06 506.50) scale(1.0500 1)" text-anchor="middle">6</text>
<rect x="799.68" y="491.25" width="15.23" height="3.35" fill="#cbcbcb" stroke="#000" stroke-width="1.5"/>
<text transform="translate(807.29 506.50) scale(1.0500 1)" text-anchor="middle">7</text>
<rect x="814.91" y="486.51" width="15.23" height="8.09" fill="#cbcbcb" stroke="#000" stroke-width="1.5"/>
<text transform="translate(822.52 506.50) scale(1.0500 1)" text-anchor="middle">8</text>
<rect x="830.14" y="487.55" width="15.23" height="7.05" fill="#cbcbcb" stroke="#000" stroke-width="1.5"/>
<text transform="translate(837.75 506.50) scale(1.0500 1)" text-anchor="middle">9</text>
<rect x="845.37" y="489.51" width="15.23" height="5.09" fill="#cbcbcb" stroke="#000" stroke-width="1.5"/>
<text transform="translate(853.88 506.50) scale(0.9765 1)" text-anchor="middle">10</text>
<rect x="860.60" y="491.25" width="15.23" height="3.35" fill="#cbcbcb" stroke="#000" stroke-width="1.5"/>
<text transform="translate(869.11 506.50) scale(0.9765 1)" text-anchor="middle">11</text>
<rect x="875.83" y="493.21" width="15.23" height="1.39" fill="#cbcbcb" stroke="#000" stroke-width="1.5"/>
<text transform="translate(884.34 506.50) scale(0.9765 1)" text-anchor="middle">12</text>
<line x1="700.40" y1="331.90" x2="700.40" y2="495.50" stroke="#000" stroke-width="1.8"/>
<line x1="694.80" y1="494.60" x2="700.40" y2="494.60" stroke="#000" stroke-width="1.8"/>
<text transform="translate(693.10 498.40) scale(1.0500 1)" style="font-size:11.43px" text-anchor="end">0</text>
<line x1="694.80" y1="471.49" x2="700.40" y2="471.49" stroke="#000" stroke-width="1.8"/>
<text transform="translate(693.10 475.29) scale(1.0500 1)" style="font-size:11.43px" text-anchor="end">20</text>
<line x1="694.80" y1="448.37" x2="700.40" y2="448.37" stroke="#000" stroke-width="1.8"/>
<text transform="translate(693.10 452.17) scale(1.0500 1)" style="font-size:11.43px" text-anchor="end">40</text>
<line x1="694.80" y1="425.26" x2="700.40" y2="425.26" stroke="#000" stroke-width="1.8"/>
<text transform="translate(693.10 429.06) scale(1.0500 1)" style="font-size:11.43px" text-anchor="end">60</text>
<line x1="694.80" y1="402.14" x2="700.40" y2="402.14" stroke="#000" stroke-width="1.8"/>
<text transform="translate(693.10 405.94) scale(1.0500 1)" style="font-size:11.43px" text-anchor="end">80</text>
<line x1="694.80" y1="379.03" x2="700.40" y2="379.03" stroke="#000" stroke-width="1.8"/>
<text transform="translate(693.10 382.83) scale(1.0500 1)" style="font-size:11.43px" text-anchor="end">100</text>
<line x1="694.80" y1="355.91" x2="700.40" y2="355.91" stroke="#000" stroke-width="1.8"/>
<text transform="translate(693.10 359.71) scale(1.0500 1)" style="font-size:11.43px" text-anchor="end">120</text>
<line x1="694.80" y1="332.80" x2="700.40" y2="332.80" stroke="#000" stroke-width="1.8"/>
<text transform="translate(693.10 336.60) scale(1.0500 1)" style="font-size:11.43px" text-anchor="end">140</text>
<line x1="900.20" y1="328.90" x2="900.20" y2="495.50" stroke="#000" stroke-width="1.8"/>
<line x1="900.20" y1="494.60" x2="905.80" y2="494.60" stroke="#000" stroke-width="1.8"/>
<text transform="translate(907.30 498.60) scale(1.0500 1)" style="font-size:11.05px" text-anchor="start">0</text>
<line x1="900.20" y1="467.13" x2="905.80" y2="467.13" stroke="#000" stroke-width="1.8"/>
<text transform="translate(907.30 471.13) scale(1.0500 1)" style="font-size:11.05px" text-anchor="start">10%</text>
<line x1="900.20" y1="439.67" x2="905.80" y2="439.67" stroke="#000" stroke-width="1.8"/>
<text transform="translate(907.30 443.67) scale(1.0500 1)" style="font-size:11.05px" text-anchor="start">20%</text>
<line x1="900.20" y1="412.20" x2="905.80" y2="412.20" stroke="#000" stroke-width="1.8"/>
<text transform="translate(907.30 416.20) scale(1.0500 1)" style="font-size:11.05px" text-anchor="start">30%</text>
<line x1="900.20" y1="384.73" x2="905.80" y2="384.73" stroke="#000" stroke-width="1.8"/>
<text transform="translate(907.30 388.73) scale(1.0500 1)" style="font-size:11.05px" text-anchor="start">40%</text>
<line x1="900.20" y1="357.27" x2="905.80" y2="357.27" stroke="#000" stroke-width="1.8"/>
<text transform="translate(907.30 361.27) scale(1.0500 1)" style="font-size:11.05px" text-anchor="start">50%</text>
<line x1="900.20" y1="329.80" x2="905.80" y2="329.80" stroke="#000" stroke-width="1.8"/>
<text transform="translate(907.30 333.80) scale(1.0500 1)" style="font-size:11.05px" text-anchor="start">60%</text>
<text transform="translate(670.20 410.50) rotate(-90) scale(1.0500 1)" text-anchor="middle"># of extinguished 129TF genes</text>
<text transform="translate(944.20 418.00) rotate(-90) scale(1.0500 1)" text-anchor="middle">% of extinguished 129TF genes</text>
<text transform="translate(800.70 518.70) scale(1.0500 1)" text-anchor="middle"># of fusions in which genes are extinguished</text>
<text transform="translate(0.50 555.10)" style="font-size:19.50px" text-anchor="start" class="pl">F</text>
<line x1="57.70" y1="560.90" x2="57.70" y2="981.10" stroke="#000" stroke-width="1.8"/>
<line x1="52.40" y1="980.20" x2="57.70" y2="980.20" stroke="#000" stroke-width="1.8"/>
<text transform="translate(49.80 984.00) scale(1.0500 1)" style="font-size:11.43px" text-anchor="end">0</text>
<line x1="52.40" y1="875.60" x2="57.70" y2="875.60" stroke="#000" stroke-width="1.8"/>
<text transform="translate(49.80 879.40) scale(1.0500 1)" style="font-size:11.43px" text-anchor="end">50</text>
<line x1="52.40" y1="771.00" x2="57.70" y2="771.00" stroke="#000" stroke-width="1.8"/>
<text transform="translate(49.80 774.80) scale(1.0500 1)" style="font-size:11.43px" text-anchor="end">100</text>
<line x1="52.40" y1="666.40" x2="57.70" y2="666.40" stroke="#000" stroke-width="1.8"/>
<text transform="translate(49.80 670.20) scale(1.0500 1)" style="font-size:11.43px" text-anchor="end">150</text>
<line x1="52.40" y1="561.80" x2="57.70" y2="561.80" stroke="#000" stroke-width="1.8"/>
<text transform="translate(49.80 565.60) scale(1.0500 1)" style="font-size:11.43px" text-anchor="end">200</text>
<text transform="translate(25.80 772.20) rotate(-90) scale(1.0500 1)" style="font-size:10.88px" text-anchor="middle">Genomic position (Mb)</text>
<g transform="translate(82.00 0)">
<line x1="-9.60" y1="594.38" x2="0.00" y2="594.38" stroke="#000" stroke-width="1.45"/>
<line x1="-9.60" y1="614.21" x2="0.00" y2="614.21" stroke="#555" stroke-width="1.45"/>
<line x1="-9.60" y1="616.66" x2="0.00" y2="616.66" stroke="#000" stroke-width="2.7"/>
<line x1="-9.60" y1="618.55" x2="0.00" y2="618.55" stroke="#000" stroke-width="2.7"/>
<line x1="-9.60" y1="628.94" x2="0.00" y2="628.94" stroke="#000" stroke-width="1.45"/>
<line x1="-9.60" y1="636.12" x2="0.00" y2="636.12" stroke="#000" stroke-width="1.45"/>
<line x1="-9.60" y1="638.38" x2="0.00" y2="638.38" stroke="#555" stroke-width="1.45"/>
<line x1="-9.60" y1="641.59" x2="0.00" y2="641.59" stroke="#000" stroke-width="1.45"/>
<line x1="-9.60" y1="655.95" x2="0.00" y2="655.95" stroke="#000" stroke-width="1.45"/>
<line x1="-9.60" y1="662.37" x2="0.00" y2="662.37" stroke="#000" stroke-width="1.45"/>
<line x1="-9.60" y1="683.71" x2="0.00" y2="683.71" stroke="#000" stroke-width="1.45"/>
<line x1="-9.60" y1="685.60" x2="0.00" y2="685.60" stroke="#555" stroke-width="1.45"/>
<line x1="-9.60" y1="688.06" x2="0.00" y2="688.06" stroke="#000" stroke-width="1.45"/>
<line x1="-9.60" y1="695.99" x2="0.00" y2="695.99" stroke="#000" stroke-width="2.7"/>
<line x1="-9.60" y1="698.45" x2="0.00" y2="698.45" stroke="#000" stroke-width="1.45"/>
<line x1="-9.60" y1="702.60" x2="0.00" y2="702.60" stroke="#000" stroke-width="1.45"/>
<line x1="-9.60" y1="722.43" x2="0.00" y2="722.43" stroke="#000" stroke-width="1.45"/>
<line x1="-9.60" y1="728.48" x2="0.00" y2="728.48" stroke="#000" stroke-width="1.45"/>
<line x1="-9.60" y1="744.72" x2="0.00" y2="744.72" stroke="#000" stroke-width="1.45"/>
<line x1="-9.60" y1="752.65" x2="0.00" y2="752.65" stroke="#000" stroke-width="2.7"/>
<line x1="-9.60" y1="781.90" x2="0.00" y2="781.90" stroke="#000" stroke-width="1.45"/>
<line x1="-9.60" y1="786.05" x2="0.00" y2="786.05" stroke="#000" stroke-width="1.45"/>
<line x1="-9.60" y1="793.99" x2="0.00" y2="793.99" stroke="#000" stroke-width="1.45"/>
<line x1="-9.60" y1="797.76" x2="0.00" y2="797.76" stroke="#000" stroke-width="1.45"/>
<line x1="-9.60" y1="818.73" x2="0.00" y2="818.73" stroke="#000" stroke-width="1.45"/>
<line x1="-9.60" y1="822.89" x2="0.00" y2="822.89" stroke="#000" stroke-width="2.7"/>
<line x1="-9.60" y1="824.21" x2="0.00" y2="824.21" stroke="#000" stroke-width="1.45"/>
<line x1="-9.60" y1="848.01" x2="0.00" y2="848.01" stroke="#000" stroke-width="1.45"/>
<line x1="-9.60" y1="853.29" x2="0.00" y2="853.29" stroke="#000" stroke-width="1.45"/>
<line x1="-9.60" y1="869.54" x2="0.00" y2="869.54" stroke="#000" stroke-width="1.45"/>
<line x1="-9.60" y1="883.33" x2="0.00" y2="883.33" stroke="#000" stroke-width="1.45"/>
<line x1="-9.60" y1="899.19" x2="0.00" y2="899.19" stroke="#000" stroke-width="1.45"/>
<line x1="-9.60" y1="901.84" x2="0.00" y2="901.84" stroke="#000" stroke-width="1.45"/>
<line x1="-9.60" y1="908.26" x2="0.00" y2="908.26" stroke="#000" stroke-width="1.45"/>
<line x1="-9.60" y1="927.90" x2="0.00" y2="927.90" stroke="#555" stroke-width="1.45"/>
<line x1="-9.60" y1="940.37" x2="0.00" y2="940.37" stroke="#000" stroke-width="1.45"/>
<line x1="-9.60" y1="953.78" x2="0.00" y2="953.78" stroke="#000" stroke-width="1.45"/>
<line x1="0.00" y1="611.94" x2="9.80" y2="611.94" stroke="#bcbcbc" stroke-width="2.6"/>
<line x1="0.00" y1="613.83" x2="9.80" y2="613.83" stroke="#b0b0b0" stroke-width="1.2"/>
<line x1="0.00" y1="617.23" x2="9.80" y2="617.23" stroke="#7a7a7a" stroke-width="1.25"/>
<line x1="0.00" y1="633.10" x2="9.80" y2="633.10" stroke="#7a7a7a" stroke-width="1.25"/>
<line x1="0.00" y1="656.71" x2="9.80" y2="656.71" stroke="#7a7a7a" stroke-width="1.25"/>
<line x1="0.00" y1="674.27" x2="9.80" y2="674.27" stroke="#858585" stroke-width="2.1"/>
<line x1="0.00" y1="693.16" x2="9.80" y2="693.16" stroke="#858585" stroke-width="2.1"/>
<line x1="0.00" y1="700.71" x2="9.80" y2="700.71" stroke="#7a7a7a" stroke-width="1.25"/>
<line x1="0.00" y1="785.68" x2="9.80" y2="785.68" stroke="#7a7a7a" stroke-width="1.25"/>
<line x1="0.00" y1="793.23" x2="9.80" y2="793.23" stroke="#7a7a7a" stroke-width="1.25"/>
<line x1="0.00" y1="806.45" x2="9.80" y2="806.45" stroke="#7a7a7a" stroke-width="1.25"/>
<line x1="0.00" y1="813.44" x2="9.80" y2="813.44" stroke="#7a7a7a" stroke-width="1.25"/>
<line x1="0.00" y1="827.80" x2="9.80" y2="827.80" stroke="#b0b0b0" stroke-width="1.2"/>
<line x1="0.00" y1="895.41" x2="9.80" y2="895.41" stroke="#7a7a7a" stroke-width="1.25"/>
<line x1="0.00" y1="935.83" x2="9.80" y2="935.83" stroke="#7a7a7a" stroke-width="1.25"/>
<line x1="0.00" y1="943.20" x2="9.80" y2="943.20" stroke="#7a7a7a" stroke-width="1.25"/>
<line x1="0.00" y1="567.66" x2="0.00" y2="980.50" stroke="#000" stroke-width="3.2"/>
</g>
<text transform="translate(82.00 994.60) scale(1.0500 1)" text-anchor="middle">1</text>
<g transform="translate(125.90 0)">
<line x1="-9.60" y1="602.50" x2="0.00" y2="602.50" stroke="#000" stroke-width="2.7"/>
<line x1="-9.60" y1="619.50" x2="0.00" y2="619.50" stroke="#000" stroke-width="1.45"/>
<line x1="-9.60" y1="624.78" x2="0.00" y2="624.78" stroke="#000" stroke-width="1.45"/>
<line x1="-9.60" y1="628.94" x2="0.00" y2="628.94" stroke="#000" stroke-width="1.45"/>
<line x1="-9.60" y1="631.40" x2="0.00" y2="631.40" stroke="#000" stroke-width="1.45"/>
<line x1="-9.60" y1="634.04" x2="0.00" y2="634.04" stroke="#000" stroke-width="1.45"/>
<line x1="-9.60" y1="636.50" x2="0.00" y2="636.50" stroke="#000" stroke-width="1.45"/>
<line x1="-9.60" y1="639.71" x2="0.00" y2="639.71" stroke="#000" stroke-width="1.45"/>
<line x1="-9.60" y1="648.77" x2="0.00" y2="648.77" stroke="#000" stroke-width="1.45"/>
<line x1="-9.60" y1="660.10" x2="0.00" y2="660.10" stroke="#000" stroke-width="2.7"/>
<line x1="-9.60" y1="662.56" x2="0.00" y2="662.56" stroke="#000" stroke-width="2.7"/>
<line x1="-9.60" y1="671.44" x2="0.00" y2="671.44" stroke="#000" stroke-width="1.45"/>
<line x1="-9.60" y1="702.98" x2="0.00" y2="702.98" stroke="#000" stroke-width="1.45"/>
<line x1="-9.60" y1="717.71" x2="0.00" y2="717.71" stroke="#000" stroke-width="2.7"/>
<line x1="-9.60" y1="725.27" x2="0.00" y2="725.27" stroke="#000" stroke-width="2.7"/>
<line x1="-9.60" y1="726.59" x2="0.00" y2="726.59" stroke="#000" stroke-width="1.45"/>
<line x1="-9.60" y1="733.39" x2="0.00" y2="733.39" stroke="#000" stroke-width="1.45"/>
<line x1="-9.60" y1="746.23" x2="0.00" y2="746.23" stroke="#000" stroke-width="1.45"/>
<line x1="-9.60" y1="758.32" x2="0.00" y2="758.32" stroke="#000" stroke-width="2.7"/>
<line x1="-9.60" y1="760.59" x2="0.00" y2="760.59" stroke="#000" stroke-width="1.45"/>
<line x1="-9.60" y1="785.68" x2="0.00" y2="785.68" stroke="#000" stroke-width="2.7"/>
<line x1="-9.60" y1="787.94" x2="0.00" y2="787.94" stroke="#000" stroke-width="1.45"/>
<line x1="-9.60" y1="789.83" x2="0.00" y2="789.83" stroke="#000" stroke-width="1.45"/>
<line x1="-9.60" y1="803.43" x2="0.00" y2="803.43" stroke="#000" stroke-width="1.45"/>
<line x1="-9.60" y1="824.59" x2="0.00" y2="824.59" stroke="#000" stroke-width="1.45"/>
<line x1="-9.60" y1="831.76" x2="0.00" y2="831.76" stroke="#000" stroke-width="1.45"/>
<line x1="-9.60" y1="841.40" x2="0.00" y2="841.40" stroke="#000" stroke-width="1.45"/>
<line x1="-9.60" y1="844.23" x2="0.00" y2="844.23" stroke="#000" stroke-width="1.45"/>
<line x1="-9.60" y1="846.87" x2="0.00" y2="846.87" stroke="#555" stroke-width="1.45"/>
<line x1="-9.60" y1="854.24" x2="0.00" y2="854.24" stroke="#000" stroke-width="1.45"/>
<line x1="-9.60" y1="889.18" x2="0.00" y2="889.18" stroke="#000" stroke-width="1.45"/>
<line x1="-9.60" y1="899.76" x2="0.00" y2="899.76" stroke="#000" stroke-width="1.45"/>
<line x1="-9.60" y1="913.92" x2="0.00" y2="913.92" stroke="#555" stroke-width="1.45"/>
<line x1="-9.60" y1="921.48" x2="0.00" y2="921.48" stroke="#000" stroke-width="1.45"/>
<line x1="-9.60" y1="926.39" x2="0.00" y2="926.39" stroke="#000" stroke-width="2.7"/>
<line x1="-9.60" y1="928.28" x2="0.00" y2="928.28" stroke="#000" stroke-width="1.45"/>
<line x1="-9.60" y1="930.17" x2="0.00" y2="930.17" stroke="#555" stroke-width="1.45"/>
<line x1="-9.60" y1="953.40" x2="0.00" y2="953.40" stroke="#000" stroke-width="1.45"/>
<line x1="-9.60" y1="957.37" x2="0.00" y2="957.37" stroke="#000" stroke-width="1.45"/>
<line x1="-9.60" y1="973.61" x2="0.00" y2="973.61" stroke="#000" stroke-width="1.45"/>
<line x1="0.00" y1="618.55" x2="9.80" y2="618.55" stroke="#7a7a7a" stroke-width="1.25"/>
<line x1="0.00" y1="665.77" x2="9.80" y2="665.77" stroke="#7a7a7a" stroke-width="1.25"/>
<line x1="0.00" y1="710.35" x2="9.80" y2="710.35" stroke="#7a7a7a" stroke-width="1.25"/>
<line x1="0.00" y1="746.23" x2="9.80" y2="746.23" stroke="#7a7a7a" stroke-width="1.25"/>
<line x1="0.00" y1="756.43" x2="9.80" y2="756.43" stroke="#7a7a7a" stroke-width="1.25"/>
<line x1="0.00" y1="792.48" x2="9.80" y2="792.48" stroke="#7a7a7a" stroke-width="1.25"/>
<line x1="0.00" y1="800.60" x2="9.80" y2="800.60" stroke="#7a7a7a" stroke-width="1.25"/>
<line x1="0.00" y1="849.71" x2="9.80" y2="849.71" stroke="#7a7a7a" stroke-width="1.25"/>
<line x1="0.00" y1="912.98" x2="9.80" y2="912.98" stroke="#7a7a7a" stroke-width="1.25"/>
<line x1="0.00" y1="920.72" x2="9.80" y2="920.72" stroke="#b0b0b0" stroke-width="1.2"/>
<line x1="0.00" y1="973.04" x2="9.80" y2="973.04" stroke="#7a7a7a" stroke-width="1.25"/>
<line x1="0.00" y1="600.08" x2="0.00" y2="980.50" stroke="#000" stroke-width="3.2"/>
</g>
<text transform="translate(125.90 994.60) scale(1.0500 1)" text-anchor="middle">2</text>
<g transform="translate(169.80 0)">
<line x1="-9.60" y1="675.22" x2="0.00" y2="675.22" stroke="#000" stroke-width="1.45"/>
<line x1="-9.60" y1="677.10" x2="0.00" y2="677.10" stroke="#555" stroke-width="1.45"/>
<line x1="-9.60" y1="678.99" x2="0.00" y2="678.99" stroke="#000" stroke-width="1.45"/>
<line x1="-9.60" y1="683.15" x2="0.00" y2="683.15" stroke="#000" stroke-width="1.45"/>
<line x1="-9.60" y1="685.23" x2="0.00" y2="685.23" stroke="#000" stroke-width="1.45"/>
<line x1="-9.60" y1="696.94" x2="0.00" y2="696.94" stroke="#000" stroke-width="1.45"/>
<line x1="-9.60" y1="711.10" x2="0.00" y2="711.10" stroke="#000" stroke-width="1.45"/>
<line x1="-9.60" y1="717.90" x2="0.00" y2="717.90" stroke="#555" stroke-width="1.45"/>
<line x1="-9.60" y1="727.72" x2="0.00" y2="727.72" stroke="#000" stroke-width="1.45"/>
<line x1="-9.60" y1="735.66" x2="0.00" y2="735.66" stroke="#000" stroke-width="2.7"/>
<line x1="-9.60" y1="737.54" x2="0.00" y2="737.54" stroke="#000" stroke-width="1.45"/>
<line x1="-9.60" y1="740.94" x2="0.00" y2="740.94" stroke="#555" stroke-width="1.45"/>
<line x1="-9.60" y1="742.83" x2="0.00" y2="742.83" stroke="#555" stroke-width="1.45"/>
<line x1="-9.60" y1="754.54" x2="0.00" y2="754.54" stroke="#000" stroke-width="2.7"/>
<line x1="-9.60" y1="757.94" x2="0.00" y2="757.94" stroke="#000" stroke-width="1.45"/>
<line x1="-9.60" y1="760.21" x2="0.00" y2="760.21" stroke="#000" stroke-width="1.45"/>
<line x1="-9.60" y1="765.88" x2="0.00" y2="765.88" stroke="#555" stroke-width="1.45"/>
<line x1="-9.60" y1="767.76" x2="0.00" y2="767.76" stroke="#555" stroke-width="1.45"/>
<line x1="-9.60" y1="778.12" x2="0.00" y2="778.12" stroke="#000" stroke-width="1.45"/>
<line x1="-9.60" y1="779.82" x2="0.00" y2="779.82" stroke="#555" stroke-width="1.45"/>
<line x1="-9.60" y1="781.71" x2="0.00" y2="781.71" stroke="#000" stroke-width="1.45"/>
<line x1="-9.60" y1="784.73" x2="0.00" y2="784.73" stroke="#000" stroke-width="1.45"/>
<line x1="-9.60" y1="792.10" x2="0.00" y2="792.10" stroke="#000" stroke-width="1.45"/>
<line x1="-9.60" y1="794.18" x2="0.00" y2="794.18" stroke="#000" stroke-width="1.45"/>
<line x1="-9.60" y1="796.07" x2="0.00" y2="796.07" stroke="#000" stroke-width="1.45"/>
<line x1="-9.60" y1="812.12" x2="0.00" y2="812.12" stroke="#000" stroke-width="1.45"/>
<line x1="-9.60" y1="842.53" x2="0.00" y2="842.53" stroke="#000" stroke-width="1.45"/>
<line x1="-9.60" y1="850.65" x2="0.00" y2="850.65" stroke="#000" stroke-width="1.45"/>
<line x1="-9.60" y1="857.26" x2="0.00" y2="857.26" stroke="#000" stroke-width="2.7"/>
<line x1="-9.60" y1="865.76" x2="0.00" y2="865.76" stroke="#000" stroke-width="1.45"/>
<line x1="-9.60" y1="879.17" x2="0.00" y2="879.17" stroke="#000" stroke-width="1.45"/>
<line x1="-9.60" y1="908.26" x2="0.00" y2="908.26" stroke="#000" stroke-width="1.45"/>
<line x1="-9.60" y1="916.76" x2="0.00" y2="916.76" stroke="#000" stroke-width="1.45"/>
<line x1="-9.60" y1="939.61" x2="0.00" y2="939.61" stroke="#000" stroke-width="1.45"/>
<line x1="-9.60" y1="949.62" x2="0.00" y2="949.62" stroke="#000" stroke-width="1.45"/>
<line x1="-9.60" y1="958.88" x2="0.00" y2="958.88" stroke="#000" stroke-width="2.7"/>
<line x1="0.00" y1="651.61" x2="9.80" y2="651.61" stroke="#7a7a7a" stroke-width="1.25"/>
<line x1="0.00" y1="684.66" x2="9.80" y2="684.66" stroke="#7a7a7a" stroke-width="1.25"/>
<line x1="0.00" y1="693.35" x2="9.80" y2="693.35" stroke="#7a7a7a" stroke-width="1.25"/>
<line x1="0.00" y1="753.79" x2="9.80" y2="753.79" stroke="#858585" stroke-width="2.1"/>
<line x1="0.00" y1="757.38" x2="9.80" y2="757.38" stroke="#7a7a7a" stroke-width="1.25"/>
<line x1="0.00" y1="759.27" x2="9.80" y2="759.27" stroke="#7a7a7a" stroke-width="1.25"/>
<line x1="0.00" y1="769.28" x2="9.80" y2="769.28" stroke="#b0b0b0" stroke-width="1.2"/>
<line x1="0.00" y1="786.62" x2="9.80" y2="786.62" stroke="#858585" stroke-width="2.1"/>
<line x1="0.00" y1="795.88" x2="9.80" y2="795.88" stroke="#b0b0b0" stroke-width="1.2"/>
<line x1="0.00" y1="853.11" x2="9.80" y2="853.11" stroke="#7a7a7a" stroke-width="1.25"/>
<line x1="0.00" y1="856.88" x2="9.80" y2="856.88" stroke="#b0b0b0" stroke-width="1.2"/>
<line x1="0.00" y1="938.10" x2="9.80" y2="938.10" stroke="#7a7a7a" stroke-width="1.25"/>
<line x1="0.00" y1="964.92" x2="9.80" y2="964.92" stroke="#7a7a7a" stroke-width="1.25"/>
<line x1="0.00" y1="646.32" x2="0.00" y2="980.50" stroke="#000" stroke-width="3.2"/>
</g>
<text transform="translate(169.80 994.60) scale(1.0500 1)" text-anchor="middle">3</text>
<g transform="translate(213.70 0)">
<line x1="-9.60" y1="663.88" x2="0.00" y2="663.88" stroke="#555" stroke-width="1.45"/>
<line x1="-9.60" y1="668.04" x2="0.00" y2="668.04" stroke="#000" stroke-width="1.45"/>
<line x1="-9.60" y1="685.04" x2="0.00" y2="685.04" stroke="#000" stroke-width="2.7"/>
<line x1="-9.60" y1="686.55" x2="0.00" y2="686.55" stroke="#000" stroke-width="2.7"/>
<line x1="-9.60" y1="691.65" x2="0.00" y2="691.65" stroke="#000" stroke-width="2.7"/>
<line x1="-9.60" y1="693.16" x2="0.00" y2="693.16" stroke="#000" stroke-width="2.7"/>
<line x1="-9.60" y1="697.88" x2="0.00" y2="697.88" stroke="#000" stroke-width="1.45"/>
<line x1="-9.60" y1="700.15" x2="0.00" y2="700.15" stroke="#000" stroke-width="1.45"/>
<line x1="-9.60" y1="702.04" x2="0.00" y2="702.04" stroke="#000" stroke-width="2.7"/>
<line x1="-9.60" y1="703.92" x2="0.00" y2="703.92" stroke="#000" stroke-width="2.7"/>
<line x1="-9.60" y1="709.21" x2="0.00" y2="709.21" stroke="#000" stroke-width="1.45"/>
<line x1="-9.60" y1="711.10" x2="0.00" y2="711.10" stroke="#555" stroke-width="1.45"/>
<line x1="-9.60" y1="714.88" x2="0.00" y2="714.88" stroke="#555" stroke-width="1.45"/>
<line x1="-9.60" y1="716.77" x2="0.00" y2="716.77" stroke="#000" stroke-width="1.45"/>
<line x1="-9.60" y1="719.60" x2="0.00" y2="719.60" stroke="#000" stroke-width="1.45"/>
<line x1="-9.60" y1="723.76" x2="0.00" y2="723.76" stroke="#000" stroke-width="1.45"/>
<line x1="-9.60" y1="734.71" x2="0.00" y2="734.71" stroke="#000" stroke-width="1.45"/>
<line x1="-9.60" y1="736.60" x2="0.00" y2="736.60" stroke="#000" stroke-width="1.45"/>
<line x1="-9.60" y1="768.71" x2="0.00" y2="768.71" stroke="#000" stroke-width="2.7"/>
<line x1="-9.60" y1="779.07" x2="0.00" y2="779.07" stroke="#000" stroke-width="1.45"/>
<line x1="-9.60" y1="782.84" x2="0.00" y2="782.84" stroke="#000" stroke-width="1.45"/>
<line x1="-9.60" y1="794.55" x2="0.00" y2="794.55" stroke="#000" stroke-width="1.45"/>
<line x1="-9.60" y1="812.31" x2="0.00" y2="812.31" stroke="#000" stroke-width="1.45"/>
<line x1="-9.60" y1="848.38" x2="0.00" y2="848.38" stroke="#000" stroke-width="2.7"/>
<line x1="-9.60" y1="857.83" x2="0.00" y2="857.83" stroke="#000" stroke-width="2.7"/>
<line x1="-9.60" y1="882.57" x2="0.00" y2="882.57" stroke="#000" stroke-width="2.7"/>
<line x1="-9.60" y1="889.75" x2="0.00" y2="889.75" stroke="#000" stroke-width="2.7"/>
<line x1="-9.60" y1="907.50" x2="0.00" y2="907.50" stroke="#000" stroke-width="1.45"/>
<line x1="-9.60" y1="920.35" x2="0.00" y2="920.35" stroke="#000" stroke-width="1.45"/>
<line x1="-9.60" y1="933.38" x2="0.00" y2="933.38" stroke="#000" stroke-width="1.45"/>
<line x1="0.00" y1="654.82" x2="9.80" y2="654.82" stroke="#b0b0b0" stroke-width="1.2"/>
<line x1="0.00" y1="707.32" x2="9.80" y2="707.32" stroke="#7a7a7a" stroke-width="1.25"/>
<line x1="0.00" y1="723.76" x2="9.80" y2="723.76" stroke="#7a7a7a" stroke-width="1.25"/>
<line x1="0.00" y1="738.49" x2="9.80" y2="738.49" stroke="#7a7a7a" stroke-width="1.25"/>
<line x1="0.00" y1="753.41" x2="9.80" y2="753.41" stroke="#7a7a7a" stroke-width="1.25"/>
<line x1="0.00" y1="761.53" x2="9.80" y2="761.53" stroke="#7a7a7a" stroke-width="1.25"/>
<line x1="0.00" y1="844.80" x2="9.80" y2="844.80" stroke="#7a7a7a" stroke-width="1.25"/>
<line x1="0.00" y1="879.74" x2="9.80" y2="879.74" stroke="#b0b0b0" stroke-width="1.2"/>
<line x1="0.00" y1="882.95" x2="9.80" y2="882.95" stroke="#7a7a7a" stroke-width="1.25"/>
<line x1="0.00" y1="885.97" x2="9.80" y2="885.97" stroke="#7a7a7a" stroke-width="1.25"/>
<line x1="0.00" y1="890.13" x2="9.80" y2="890.13" stroke="#7a7a7a" stroke-width="1.25"/>
<line x1="0.00" y1="909.39" x2="9.80" y2="909.39" stroke="#7a7a7a" stroke-width="1.25"/>
<line x1="0.00" y1="911.09" x2="9.80" y2="911.09" stroke="#7a7a7a" stroke-width="1.25"/>
<line x1="0.00" y1="939.05" x2="9.80" y2="939.05" stroke="#b0b0b0" stroke-width="1.2"/>
<line x1="0.00" y1="654.68" x2="0.00" y2="980.50" stroke="#000" stroke-width="3.2"/>
</g>
<text transform="translate(213.70 994.60) scale(1.0500 1)" text-anchor="middle">4</text>
<g transform="translate(257.60 0)">
<line x1="-9.60" y1="664.26" x2="0.00" y2="664.26" stroke="#000" stroke-width="1.45"/>
<line x1="-9.60" y1="677.67" x2="0.00" y2="677.67" stroke="#000" stroke-width="1.45"/>
<line x1="-9.60" y1="680.88" x2="0.00" y2="680.88" stroke="#000" stroke-width="1.45"/>
<line x1="-9.60" y1="684.09" x2="0.00" y2="684.09" stroke="#000" stroke-width="1.45"/>
<line x1="-9.60" y1="695.42" x2="0.00" y2="695.42" stroke="#555" stroke-width="1.45"/>
<line x1="-9.60" y1="697.31" x2="0.00" y2="697.31" stroke="#000" stroke-width="2.7"/>
<line x1="-9.60" y1="698.82" x2="0.00" y2="698.82" stroke="#000" stroke-width="1.45"/>
<line x1="-9.60" y1="707.70" x2="0.00" y2="707.70" stroke="#555" stroke-width="1.45"/>
<line x1="-9.60" y1="732.82" x2="0.00" y2="732.82" stroke="#000" stroke-width="1.45"/>
<line x1="-9.60" y1="739.06" x2="0.00" y2="739.06" stroke="#000" stroke-width="2.7"/>
<line x1="-9.60" y1="741.32" x2="0.00" y2="741.32" stroke="#000" stroke-width="1.45"/>
<line x1="-9.60" y1="743.21" x2="0.00" y2="743.21" stroke="#000" stroke-width="2.7"/>
<line x1="-9.60" y1="746.99" x2="0.00" y2="746.99" stroke="#000" stroke-width="1.45"/>
<line x1="-9.60" y1="759.83" x2="0.00" y2="759.83" stroke="#000" stroke-width="1.45"/>
<line x1="-9.60" y1="766.82" x2="0.00" y2="766.82" stroke="#000" stroke-width="1.45"/>
<line x1="-9.60" y1="773.40" x2="0.00" y2="773.40" stroke="#000" stroke-width="2.7"/>
<line x1="-9.60" y1="777.56" x2="0.00" y2="777.56" stroke="#000" stroke-width="1.45"/>
<line x1="-9.60" y1="788.32" x2="0.00" y2="788.32" stroke="#000" stroke-width="2.7"/>
<line x1="-9.60" y1="789.83" x2="0.00" y2="789.83" stroke="#000" stroke-width="1.45"/>
<line x1="-9.60" y1="821.37" x2="0.00" y2="821.37" stroke="#000" stroke-width="1.45"/>
<line x1="-9.60" y1="840.07" x2="0.00" y2="840.07" stroke="#000" stroke-width="1.45"/>
<line x1="-9.60" y1="870.10" x2="0.00" y2="870.10" stroke="#000" stroke-width="1.45"/>
<line x1="-9.60" y1="899.57" x2="0.00" y2="899.57" stroke="#000" stroke-width="1.45"/>
<line x1="-9.60" y1="902.78" x2="0.00" y2="902.78" stroke="#000" stroke-width="1.45"/>
<line x1="-9.60" y1="905.99" x2="0.00" y2="905.99" stroke="#000" stroke-width="1.45"/>
<line x1="-9.60" y1="909.39" x2="0.00" y2="909.39" stroke="#000" stroke-width="1.45"/>
<line x1="-9.60" y1="935.83" x2="0.00" y2="935.83" stroke="#000" stroke-width="1.45"/>
<line x1="-9.60" y1="943.20" x2="0.00" y2="943.20" stroke="#000" stroke-width="1.45"/>
<line x1="0.00" y1="726.59" x2="9.80" y2="726.59" stroke="#7a7a7a" stroke-width="1.25"/>
<line x1="0.00" y1="749.07" x2="9.80" y2="749.07" stroke="#7a7a7a" stroke-width="1.25"/>
<line x1="0.00" y1="761.53" x2="9.80" y2="761.53" stroke="#7a7a7a" stroke-width="1.25"/>
<line x1="0.00" y1="790.02" x2="9.80" y2="790.02" stroke="#7a7a7a" stroke-width="1.25"/>
<line x1="0.00" y1="803.62" x2="9.80" y2="803.62" stroke="#7a7a7a" stroke-width="1.25"/>
<line x1="0.00" y1="827.04" x2="9.80" y2="827.04" stroke="#7a7a7a" stroke-width="1.25"/>
<line x1="0.00" y1="831.39" x2="9.80" y2="831.39" stroke="#7a7a7a" stroke-width="1.25"/>
<line x1="0.00" y1="896.55" x2="9.80" y2="896.55" stroke="#7a7a7a" stroke-width="1.25"/>
<line x1="0.00" y1="661.17" x2="0.00" y2="980.50" stroke="#000" stroke-width="3.2"/>
</g>
<text transform="translate(257.60 994.60) scale(1.0500 1)" text-anchor="middle">5</text>
<g transform="translate(301.50 0)">
<line x1="-9.60" y1="670.49" x2="0.00" y2="670.49" stroke="#000" stroke-width="1.45"/>
<line x1="-9.60" y1="677.10" x2="0.00" y2="677.10" stroke="#000" stroke-width="1.45"/>
<line x1="-9.60" y1="681.83" x2="0.00" y2="681.83" stroke="#000" stroke-width="1.45"/>
<line x1="-9.60" y1="699.39" x2="0.00" y2="699.39" stroke="#000" stroke-width="1.45"/>
<line x1="-9.60" y1="713.93" x2="0.00" y2="713.93" stroke="#000" stroke-width="1.45"/>
<line x1="-9.60" y1="720.17" x2="0.00" y2="720.17" stroke="#000" stroke-width="2.7"/>
<line x1="-9.60" y1="723.95" x2="0.00" y2="723.95" stroke="#000" stroke-width="1.45"/>
<line x1="-9.60" y1="725.83" x2="0.00" y2="725.83" stroke="#555" stroke-width="1.45"/>
<line x1="-9.60" y1="729.05" x2="0.00" y2="729.05" stroke="#000" stroke-width="1.45"/>
<line x1="-9.60" y1="736.79" x2="0.00" y2="736.79" stroke="#000" stroke-width="1.45"/>
<line x1="-9.60" y1="743.21" x2="0.00" y2="743.21" stroke="#000" stroke-width="1.45"/>
<line x1="-9.60" y1="745.48" x2="0.00" y2="745.48" stroke="#000" stroke-width="1.45"/>
<line x1="-9.60" y1="776.99" x2="0.00" y2="776.99" stroke="#000" stroke-width="1.45"/>
<line x1="-9.60" y1="788.51" x2="0.00" y2="788.51" stroke="#000" stroke-width="1.45"/>
<line x1="-9.60" y1="791.34" x2="0.00" y2="791.34" stroke="#000" stroke-width="1.45"/>
<line x1="-9.60" y1="796.44" x2="0.00" y2="796.44" stroke="#000" stroke-width="2.7"/>
<line x1="-9.60" y1="798.33" x2="0.00" y2="798.33" stroke="#000" stroke-width="1.45"/>
<line x1="-9.60" y1="800.22" x2="0.00" y2="800.22" stroke="#000" stroke-width="1.45"/>
<line x1="-9.60" y1="804.94" x2="0.00" y2="804.94" stroke="#000" stroke-width="1.45"/>
<line x1="-9.60" y1="843.10" x2="0.00" y2="843.10" stroke="#000" stroke-width="1.45"/>
<line x1="-9.60" y1="857.07" x2="0.00" y2="857.07" stroke="#000" stroke-width="1.45"/>
<line x1="-9.60" y1="863.12" x2="0.00" y2="863.12" stroke="#000" stroke-width="1.45"/>
<line x1="-9.60" y1="867.65" x2="0.00" y2="867.65" stroke="#000" stroke-width="1.45"/>
<line x1="-9.60" y1="870.10" x2="0.00" y2="870.10" stroke="#000" stroke-width="1.45"/>
<line x1="-9.60" y1="878.60" x2="0.00" y2="878.60" stroke="#000" stroke-width="2.7"/>
<line x1="-9.60" y1="890.50" x2="0.00" y2="890.50" stroke="#555" stroke-width="1.45"/>
<line x1="-9.60" y1="892.20" x2="0.00" y2="892.20" stroke="#000" stroke-width="1.45"/>
<line x1="-9.60" y1="919.02" x2="0.00" y2="919.02" stroke="#000" stroke-width="1.45"/>
<line x1="-9.60" y1="926.77" x2="0.00" y2="926.77" stroke="#000" stroke-width="1.45"/>
<line x1="-9.60" y1="932.43" x2="0.00" y2="932.43" stroke="#000" stroke-width="1.45"/>
<line x1="-9.60" y1="942.07" x2="0.00" y2="942.07" stroke="#000" stroke-width="1.45"/>
<line x1="-9.60" y1="966.43" x2="0.00" y2="966.43" stroke="#000" stroke-width="1.45"/>
<line x1="-9.60" y1="969.27" x2="0.00" y2="969.27" stroke="#000" stroke-width="1.45"/>
<line x1="0.00" y1="694.29" x2="9.80" y2="694.29" stroke="#7a7a7a" stroke-width="1.25"/>
<line x1="0.00" y1="707.89" x2="9.80" y2="707.89" stroke="#b0b0b0" stroke-width="1.2"/>
<line x1="0.00" y1="709.78" x2="9.80" y2="709.78" stroke="#b0b0b0" stroke-width="1.2"/>
<line x1="0.00" y1="723.00" x2="9.80" y2="723.00" stroke="#858585" stroke-width="2.1"/>
<line x1="0.00" y1="736.98" x2="9.80" y2="736.98" stroke="#b0b0b0" stroke-width="1.2"/>
<line x1="0.00" y1="800.60" x2="9.80" y2="800.60" stroke="#7a7a7a" stroke-width="1.25"/>
<line x1="0.00" y1="808.91" x2="9.80" y2="808.91" stroke="#7a7a7a" stroke-width="1.25"/>
<line x1="0.00" y1="853.29" x2="9.80" y2="853.29" stroke="#7a7a7a" stroke-width="1.25"/>
<line x1="0.00" y1="906.37" x2="9.80" y2="906.37" stroke="#b0b0b0" stroke-width="1.2"/>
<line x1="0.00" y1="916.57" x2="9.80" y2="916.57" stroke="#b0b0b0" stroke-width="1.2"/>
<line x1="0.00" y1="935.08" x2="9.80" y2="935.08" stroke="#858585" stroke-width="2.1"/>
<line x1="0.00" y1="945.28" x2="9.80" y2="945.28" stroke="#b0b0b0" stroke-width="1.2"/>
<line x1="0.00" y1="969.08" x2="9.80" y2="969.08" stroke="#7a7a7a" stroke-width="1.25"/>
<line x1="0.00" y1="667.45" x2="0.00" y2="980.50" stroke="#000" stroke-width="3.2"/>
</g>
<text transform="translate(301.50 994.60) scale(1.0500 1)" text-anchor="middle">6</text>
<g transform="translate(345.40 0)">
<line x1="-9.60" y1="666.15" x2="0.00" y2="666.15" stroke="#000" stroke-width="1.45"/>
<line x1="-9.60" y1="668.04" x2="0.00" y2="668.04" stroke="#555" stroke-width="1.45"/>
<line x1="-9.60" y1="671.06" x2="0.00" y2="671.06" stroke="#000" stroke-width="1.45"/>
<line x1="-9.60" y1="674.46" x2="0.00" y2="674.46" stroke="#000" stroke-width="1.45"/>
<line x1="-9.60" y1="678.80" x2="0.00" y2="678.80" stroke="#000" stroke-width="1.45"/>
<line x1="-9.60" y1="690.33" x2="0.00" y2="690.33" stroke="#000" stroke-width="1.45"/>
<line x1="-9.60" y1="698.45" x2="0.00" y2="698.45" stroke="#000" stroke-width="2.7"/>
<line x1="-9.60" y1="710.16" x2="0.00" y2="710.16" stroke="#555" stroke-width="1.45"/>
<line x1="-9.60" y1="713.93" x2="0.00" y2="713.93" stroke="#000" stroke-width="1.45"/>
<line x1="-9.60" y1="723.38" x2="0.00" y2="723.38" stroke="#000" stroke-width="2.7"/>
<line x1="-9.60" y1="725.27" x2="0.00" y2="725.27" stroke="#000" stroke-width="1.45"/>
<line x1="-9.60" y1="726.59" x2="0.00" y2="726.59" stroke="#555" stroke-width="1.45"/>
<line x1="-9.60" y1="733.77" x2="0.00" y2="733.77" stroke="#000" stroke-width="1.45"/>
<line x1="-9.60" y1="740.57" x2="0.00" y2="740.57" stroke="#000" stroke-width="1.45"/>
<line x1="-9.60" y1="747.56" x2="0.00" y2="747.56" stroke="#000" stroke-width="1.45"/>
<line x1="-9.60" y1="753.03" x2="0.00" y2="753.03" stroke="#555" stroke-width="1.45"/>
<line x1="-9.60" y1="754.92" x2="0.00" y2="754.92" stroke="#555" stroke-width="1.45"/>
<line x1="-9.60" y1="761.15" x2="0.00" y2="761.15" stroke="#000" stroke-width="2.7"/>
<line x1="-9.60" y1="795.12" x2="0.00" y2="795.12" stroke="#555" stroke-width="1.45"/>
<line x1="-9.60" y1="797.01" x2="0.00" y2="797.01" stroke="#000" stroke-width="1.45"/>
<line x1="-9.60" y1="798.90" x2="0.00" y2="798.90" stroke="#555" stroke-width="1.45"/>
<line x1="-9.60" y1="800.60" x2="0.00" y2="800.60" stroke="#000" stroke-width="1.45"/>
<line x1="-9.60" y1="802.11" x2="0.00" y2="802.11" stroke="#000" stroke-width="1.45"/>
<line x1="-9.60" y1="814.76" x2="0.00" y2="814.76" stroke="#000" stroke-width="1.45"/>
<line x1="-9.60" y1="824.02" x2="0.00" y2="824.02" stroke="#000" stroke-width="1.45"/>
<line x1="-9.60" y1="857.64" x2="0.00" y2="857.64" stroke="#000" stroke-width="1.45"/>
<line x1="-9.60" y1="869.16" x2="0.00" y2="869.16" stroke="#000" stroke-width="2.7"/>
<line x1="-9.60" y1="871.05" x2="0.00" y2="871.05" stroke="#000" stroke-width="2.7"/>
<line x1="-9.60" y1="872.56" x2="0.00" y2="872.56" stroke="#000" stroke-width="1.45"/>
<line x1="-9.60" y1="874.45" x2="0.00" y2="874.45" stroke="#000" stroke-width="1.45"/>
<line x1="-9.60" y1="900.70" x2="0.00" y2="900.70" stroke="#555" stroke-width="1.45"/>
<line x1="-9.60" y1="904.86" x2="0.00" y2="904.86" stroke="#000" stroke-width="1.45"/>
<line x1="-9.60" y1="914.49" x2="0.00" y2="914.49" stroke="#000" stroke-width="2.7"/>
<line x1="-9.60" y1="916.38" x2="0.00" y2="916.38" stroke="#000" stroke-width="1.45"/>
<line x1="-9.60" y1="919.21" x2="0.00" y2="919.21" stroke="#000" stroke-width="2.7"/>
<line x1="-9.60" y1="921.10" x2="0.00" y2="921.10" stroke="#000" stroke-width="1.45"/>
<line x1="-9.60" y1="923.56" x2="0.00" y2="923.56" stroke="#000" stroke-width="1.45"/>
<line x1="-9.60" y1="925.45" x2="0.00" y2="925.45" stroke="#000" stroke-width="1.45"/>
<line x1="-9.60" y1="927.15" x2="0.00" y2="927.15" stroke="#000" stroke-width="1.45"/>
<line x1="-9.60" y1="939.61" x2="0.00" y2="939.61" stroke="#000" stroke-width="1.45"/>
<line x1="-9.60" y1="943.77" x2="0.00" y2="943.77" stroke="#555" stroke-width="1.45"/>
<line x1="-9.60" y1="945.66" x2="0.00" y2="945.66" stroke="#000" stroke-width="1.45"/>
<line x1="-9.60" y1="966.43" x2="0.00" y2="966.43" stroke="#000" stroke-width="2.7"/>
<line x1="-9.60" y1="970.59" x2="0.00" y2="970.59" stroke="#000" stroke-width="1.45"/>
<line x1="0.00" y1="662.37" x2="9.80" y2="662.37" stroke="#7a7a7a" stroke-width="1.25"/>
<line x1="0.00" y1="700.52" x2="9.80" y2="700.52" stroke="#7a7a7a" stroke-width="1.25"/>
<line x1="0.00" y1="706.95" x2="9.80" y2="706.95" stroke="#7a7a7a" stroke-width="1.25"/>
<line x1="0.00" y1="748.12" x2="9.80" y2="748.12" stroke="#7a7a7a" stroke-width="1.25"/>
<line x1="0.00" y1="753.60" x2="9.80" y2="753.60" stroke="#7a7a7a" stroke-width="1.25"/>
<line x1="0.00" y1="755.87" x2="9.80" y2="755.87" stroke="#7a7a7a" stroke-width="1.25"/>
<line x1="0.00" y1="867.46" x2="9.80" y2="867.46" stroke="#7a7a7a" stroke-width="1.25"/>
<line x1="0.00" y1="870.48" x2="9.80" y2="870.48" stroke="#7a7a7a" stroke-width="1.25"/>
<line x1="0.00" y1="972.29" x2="9.80" y2="972.29" stroke="#7a7a7a" stroke-width="1.25"/>
<line x1="0.00" y1="661.17" x2="0.00" y2="980.50" stroke="#000" stroke-width="3.2"/>
</g>
<text transform="translate(345.40 994.60) scale(1.0500 1)" text-anchor="middle">7</text>
<g transform="translate(389.30 0)">
<line x1="-9.60" y1="711.86" x2="0.00" y2="711.86" stroke="#000" stroke-width="1.45"/>
<line x1="-9.60" y1="717.71" x2="0.00" y2="717.71" stroke="#000" stroke-width="1.45"/>
<line x1="-9.60" y1="724.89" x2="0.00" y2="724.89" stroke="#555" stroke-width="1.45"/>
<line x1="-9.60" y1="741.89" x2="0.00" y2="741.89" stroke="#000" stroke-width="1.45"/>
<line x1="-9.60" y1="745.48" x2="0.00" y2="745.48" stroke="#000" stroke-width="2.7"/>
<line x1="-9.60" y1="753.60" x2="0.00" y2="753.60" stroke="#000" stroke-width="2.7"/>
<line x1="-9.60" y1="755.11" x2="0.00" y2="755.11" stroke="#000" stroke-width="1.45"/>
<line x1="-9.60" y1="776.99" x2="0.00" y2="776.99" stroke="#000" stroke-width="2.7"/>
<line x1="-9.60" y1="789.45" x2="0.00" y2="789.45" stroke="#000" stroke-width="1.45"/>
<line x1="-9.60" y1="814.39" x2="0.00" y2="814.39" stroke="#000" stroke-width="1.45"/>
<line x1="-9.60" y1="828.93" x2="0.00" y2="828.93" stroke="#000" stroke-width="1.45"/>
<line x1="-9.60" y1="832.33" x2="0.00" y2="832.33" stroke="#555" stroke-width="1.45"/>
<line x1="-9.60" y1="834.22" x2="0.00" y2="834.22" stroke="#000" stroke-width="1.45"/>
<line x1="-9.60" y1="838.94" x2="0.00" y2="838.94" stroke="#000" stroke-width="1.45"/>
<line x1="-9.60" y1="882.95" x2="0.00" y2="882.95" stroke="#000" stroke-width="1.45"/>
<line x1="-9.60" y1="929.22" x2="0.00" y2="929.22" stroke="#555" stroke-width="1.45"/>
<line x1="-9.60" y1="930.92" x2="0.00" y2="930.92" stroke="#555" stroke-width="1.45"/>
<line x1="-9.60" y1="951.70" x2="0.00" y2="951.70" stroke="#000" stroke-width="1.45"/>
<line x1="-9.60" y1="972.85" x2="0.00" y2="972.85" stroke="#555" stroke-width="1.45"/>
<line x1="0.00" y1="755.49" x2="9.80" y2="755.49" stroke="#7a7a7a" stroke-width="1.25"/>
<line x1="0.00" y1="776.23" x2="9.80" y2="776.23" stroke="#7a7a7a" stroke-width="1.25"/>
<line x1="0.00" y1="804.19" x2="9.80" y2="804.19" stroke="#b0b0b0" stroke-width="1.2"/>
<line x1="0.00" y1="857.45" x2="9.80" y2="857.45" stroke="#7a7a7a" stroke-width="1.25"/>
<line x1="0.00" y1="972.48" x2="9.80" y2="972.48" stroke="#7a7a7a" stroke-width="1.25"/>
<line x1="0.00" y1="704.68" x2="0.00" y2="980.50" stroke="#000" stroke-width="3.2"/>
</g>
<text transform="translate(389.30 994.60) scale(1.0500 1)" text-anchor="middle">8</text>
<g transform="translate(433.20 0)">
<line x1="-9.60" y1="725.90" x2="0.00" y2="725.90" stroke="#555" stroke-width="1.45"/>
<line x1="-9.60" y1="730.62" x2="0.00" y2="730.62" stroke="#000" stroke-width="1.45"/>
<line x1="-9.60" y1="749.32" x2="0.00" y2="749.32" stroke="#000" stroke-width="1.45"/>
<line x1="-9.60" y1="752.72" x2="0.00" y2="752.72" stroke="#000" stroke-width="2.7"/>
<line x1="-9.60" y1="754.98" x2="0.00" y2="754.98" stroke="#000" stroke-width="2.7"/>
<line x1="-9.60" y1="764.62" x2="0.00" y2="764.62" stroke="#000" stroke-width="1.45"/>
<line x1="-9.60" y1="778.03" x2="0.00" y2="778.03" stroke="#555" stroke-width="1.45"/>
<line x1="-9.60" y1="795.59" x2="0.00" y2="795.59" stroke="#000" stroke-width="1.45"/>
<line x1="-9.60" y1="798.99" x2="0.00" y2="798.99" stroke="#000" stroke-width="1.45"/>
<line x1="-9.60" y1="820.15" x2="0.00" y2="820.15" stroke="#000" stroke-width="2.7"/>
<line x1="-9.60" y1="828.65" x2="0.00" y2="828.65" stroke="#000" stroke-width="1.45"/>
<line x1="-9.60" y1="831.86" x2="0.00" y2="831.86" stroke="#000" stroke-width="1.45"/>
<line x1="-9.60" y1="844.70" x2="0.00" y2="844.70" stroke="#000" stroke-width="1.45"/>
<line x1="-9.60" y1="850.56" x2="0.00" y2="850.56" stroke="#000" stroke-width="1.45"/>
<line x1="-9.60" y1="861.70" x2="0.00" y2="861.70" stroke="#000" stroke-width="2.7"/>
<line x1="-9.60" y1="863.59" x2="0.00" y2="863.59" stroke="#000" stroke-width="1.45"/>
<line x1="-9.60" y1="866.99" x2="0.00" y2="866.99" stroke="#000" stroke-width="2.7"/>
<line x1="-9.60" y1="874.92" x2="0.00" y2="874.92" stroke="#000" stroke-width="1.45"/>
<line x1="-9.60" y1="881.72" x2="0.00" y2="881.72" stroke="#000" stroke-width="1.45"/>
<line x1="-9.60" y1="887.38" x2="0.00" y2="887.38" stroke="#000" stroke-width="2.7"/>
<line x1="-9.60" y1="889.65" x2="0.00" y2="889.65" stroke="#000" stroke-width="1.45"/>
<line x1="-9.60" y1="898.15" x2="0.00" y2="898.15" stroke="#000" stroke-width="1.45"/>
<line x1="-9.60" y1="906.65" x2="0.00" y2="906.65" stroke="#000" stroke-width="1.45"/>
<line x1="-9.60" y1="916.28" x2="0.00" y2="916.28" stroke="#000" stroke-width="1.45"/>
<line x1="-9.60" y1="920.44" x2="0.00" y2="920.44" stroke="#000" stroke-width="1.45"/>
<line x1="-9.60" y1="925.16" x2="0.00" y2="925.16" stroke="#000" stroke-width="1.45"/>
<line x1="-9.60" y1="935.17" x2="0.00" y2="935.17" stroke="#000" stroke-width="2.7"/>
<line x1="-9.60" y1="937.06" x2="0.00" y2="937.06" stroke="#000" stroke-width="1.45"/>
<line x1="-9.60" y1="947.44" x2="0.00" y2="947.44" stroke="#000" stroke-width="1.45"/>
<line x1="-9.60" y1="962.74" x2="0.00" y2="962.74" stroke="#000" stroke-width="1.45"/>
<line x1="0.00" y1="732.89" x2="9.80" y2="732.89" stroke="#7a7a7a" stroke-width="1.25"/>
<line x1="0.00" y1="748.94" x2="9.80" y2="748.94" stroke="#7a7a7a" stroke-width="1.25"/>
<line x1="0.00" y1="780.67" x2="9.80" y2="780.67" stroke="#7a7a7a" stroke-width="1.25"/>
<line x1="0.00" y1="792.38" x2="9.80" y2="792.38" stroke="#b0b0b0" stroke-width="1.2"/>
<line x1="0.00" y1="859.43" x2="9.80" y2="859.43" stroke="#7a7a7a" stroke-width="1.25"/>
<line x1="0.00" y1="902.11" x2="9.80" y2="902.11" stroke="#858585" stroke-width="2.1"/>
<line x1="0.00" y1="929.12" x2="9.80" y2="929.12" stroke="#b0b0b0" stroke-width="1.2"/>
<line x1="0.00" y1="934.79" x2="9.80" y2="934.79" stroke="#b0b0b0" stroke-width="1.2"/>
<line x1="0.00" y1="720.58" x2="0.00" y2="980.50" stroke="#000" stroke-width="3.2"/>
</g>
<text transform="translate(433.20 994.60) scale(1.0500 1)" text-anchor="middle">9</text>
<g transform="translate(477.10 0)">
<line x1="-9.60" y1="712.49" x2="0.00" y2="712.49" stroke="#000" stroke-width="1.45"/>
<line x1="-9.60" y1="715.32" x2="0.00" y2="715.32" stroke="#000" stroke-width="1.45"/>
<line x1="-9.60" y1="728.16" x2="0.00" y2="728.16" stroke="#000" stroke-width="1.45"/>
<line x1="-9.60" y1="731.00" x2="0.00" y2="731.00" stroke="#000" stroke-width="1.45"/>
<line x1="-9.60" y1="735.53" x2="0.00" y2="735.53" stroke="#000" stroke-width="1.45"/>
<line x1="-9.60" y1="757.06" x2="0.00" y2="757.06" stroke="#555" stroke-width="1.45"/>
<line x1="-9.60" y1="758.38" x2="0.00" y2="758.38" stroke="#000" stroke-width="1.45"/>
<line x1="-9.60" y1="766.51" x2="0.00" y2="766.51" stroke="#000" stroke-width="2.7"/>
<line x1="-9.60" y1="787.28" x2="0.00" y2="787.28" stroke="#000" stroke-width="1.45"/>
<line x1="-9.60" y1="792.19" x2="0.00" y2="792.19" stroke="#000" stroke-width="1.45"/>
<line x1="-9.60" y1="796.73" x2="0.00" y2="796.73" stroke="#000" stroke-width="1.45"/>
<line x1="-9.60" y1="804.28" x2="0.00" y2="804.28" stroke="#000" stroke-width="1.45"/>
<line x1="-9.60" y1="812.21" x2="0.00" y2="812.21" stroke="#000" stroke-width="2.7"/>
<line x1="-9.60" y1="814.10" x2="0.00" y2="814.10" stroke="#000" stroke-width="1.45"/>
<line x1="-9.60" y1="822.98" x2="0.00" y2="822.98" stroke="#000" stroke-width="1.45"/>
<line x1="-9.60" y1="827.32" x2="0.00" y2="827.32" stroke="#000" stroke-width="1.45"/>
<line x1="-9.60" y1="850.37" x2="0.00" y2="850.37" stroke="#000" stroke-width="2.7"/>
<line x1="-9.60" y1="853.39" x2="0.00" y2="853.39" stroke="#555" stroke-width="1.45"/>
<line x1="-9.60" y1="860.76" x2="0.00" y2="860.76" stroke="#000" stroke-width="1.45"/>
<line x1="-9.60" y1="869.82" x2="0.00" y2="869.82" stroke="#000" stroke-width="2.7"/>
<line x1="-9.60" y1="878.51" x2="0.00" y2="878.51" stroke="#000" stroke-width="1.45"/>
<line x1="-9.60" y1="921.00" x2="0.00" y2="921.00" stroke="#000" stroke-width="1.45"/>
<line x1="-9.60" y1="931.20" x2="0.00" y2="931.20" stroke="#000" stroke-width="2.7"/>
<line x1="-9.60" y1="932.71" x2="0.00" y2="932.71" stroke="#000" stroke-width="1.45"/>
<line x1="-9.60" y1="938.38" x2="0.00" y2="938.38" stroke="#000" stroke-width="1.45"/>
<line x1="-9.60" y1="953.49" x2="0.00" y2="953.49" stroke="#000" stroke-width="1.45"/>
<line x1="-9.60" y1="959.16" x2="0.00" y2="959.16" stroke="#000" stroke-width="1.45"/>
<line x1="-9.60" y1="967.28" x2="0.00" y2="967.28" stroke="#555" stroke-width="1.45"/>
<line x1="-9.60" y1="971.43" x2="0.00" y2="971.43" stroke="#000" stroke-width="1.45"/>
<line x1="0.00" y1="814.86" x2="9.80" y2="814.86" stroke="#7a7a7a" stroke-width="1.25"/>
<line x1="0.00" y1="873.22" x2="9.80" y2="873.22" stroke="#7a7a7a" stroke-width="1.25"/>
<line x1="0.00" y1="909.10" x2="9.80" y2="909.10" stroke="#b0b0b0" stroke-width="1.2"/>
<line x1="0.00" y1="708.24" x2="0.00" y2="980.50" stroke="#000" stroke-width="3.2"/>
</g>
<text transform="translate(477.10 994.60) scale(1.0500 1)" text-anchor="middle">10</text>
<g transform="translate(521.00 0)">
<line x1="-9.60" y1="727.97" x2="0.00" y2="727.97" stroke="#000" stroke-width="1.45"/>
<line x1="-9.60" y1="729.86" x2="0.00" y2="729.86" stroke="#555" stroke-width="1.45"/>
<line x1="-9.60" y1="738.55" x2="0.00" y2="738.55" stroke="#000" stroke-width="2.7"/>
<line x1="-9.60" y1="740.44" x2="0.00" y2="740.44" stroke="#000" stroke-width="2.7"/>
<line x1="-9.60" y1="742.33" x2="0.00" y2="742.33" stroke="#000" stroke-width="1.45"/>
<line x1="-9.60" y1="761.22" x2="0.00" y2="761.22" stroke="#000" stroke-width="1.45"/>
<line x1="-9.60" y1="765.94" x2="0.00" y2="765.94" stroke="#000" stroke-width="2.7"/>
<line x1="-9.60" y1="767.83" x2="0.00" y2="767.83" stroke="#000" stroke-width="1.45"/>
<line x1="-9.60" y1="770.28" x2="0.00" y2="770.28" stroke="#000" stroke-width="1.45"/>
<line x1="-9.60" y1="772.55" x2="0.00" y2="772.55" stroke="#555" stroke-width="1.45"/>
<line x1="-9.60" y1="775.01" x2="0.00" y2="775.01" stroke="#000" stroke-width="1.45"/>
<line x1="-9.60" y1="776.89" x2="0.00" y2="776.89" stroke="#555" stroke-width="1.45"/>
<line x1="-9.60" y1="781.99" x2="0.00" y2="781.99" stroke="#000" stroke-width="2.7"/>
<line x1="-9.60" y1="798.05" x2="0.00" y2="798.05" stroke="#000" stroke-width="1.45"/>
<line x1="-9.60" y1="801.26" x2="0.00" y2="801.26" stroke="#000" stroke-width="1.45"/>
<line x1="-9.60" y1="806.93" x2="0.00" y2="806.93" stroke="#000" stroke-width="1.45"/>
<line x1="-9.60" y1="831.10" x2="0.00" y2="831.10" stroke="#000" stroke-width="2.7"/>
<line x1="-9.60" y1="833.37" x2="0.00" y2="833.37" stroke="#000" stroke-width="2.7"/>
<line x1="-9.60" y1="840.55" x2="0.00" y2="840.55" stroke="#000" stroke-width="1.45"/>
<line x1="-9.60" y1="844.70" x2="0.00" y2="844.70" stroke="#000" stroke-width="1.45"/>
<line x1="-9.60" y1="856.41" x2="0.00" y2="856.41" stroke="#000" stroke-width="1.45"/>
<line x1="-9.60" y1="859.81" x2="0.00" y2="859.81" stroke="#000" stroke-width="1.45"/>
<line x1="-9.60" y1="866.23" x2="0.00" y2="866.23" stroke="#000" stroke-width="1.45"/>
<line x1="-9.60" y1="876.05" x2="0.00" y2="876.05" stroke="#000" stroke-width="1.45"/>
<line x1="-9.60" y1="883.99" x2="0.00" y2="883.99" stroke="#000" stroke-width="1.45"/>
<line x1="-9.60" y1="890.59" x2="0.00" y2="890.59" stroke="#000" stroke-width="1.45"/>
<line x1="-9.60" y1="909.10" x2="0.00" y2="909.10" stroke="#000" stroke-width="1.45"/>
<line x1="-9.60" y1="921.38" x2="0.00" y2="921.38" stroke="#000" stroke-width="1.45"/>
<line x1="-9.60" y1="934.22" x2="0.00" y2="934.22" stroke="#000" stroke-width="2.7"/>
<line x1="-9.60" y1="946.50" x2="0.00" y2="946.50" stroke="#000" stroke-width="1.45"/>
<line x1="-9.60" y1="956.70" x2="0.00" y2="956.70" stroke="#000" stroke-width="1.45"/>
<line x1="-9.60" y1="967.09" x2="0.00" y2="967.09" stroke="#000" stroke-width="1.45"/>
<line x1="-9.60" y1="970.11" x2="0.00" y2="970.11" stroke="#000" stroke-width="1.45"/>
<line x1="0.00" y1="738.17" x2="9.80" y2="738.17" stroke="#b0b0b0" stroke-width="1.2"/>
<line x1="0.00" y1="740.06" x2="9.80" y2="740.06" stroke="#b0b0b0" stroke-width="1.2"/>
<line x1="0.00" y1="760.27" x2="9.80" y2="760.27" stroke="#7a7a7a" stroke-width="1.25"/>
<line x1="0.00" y1="781.99" x2="9.80" y2="781.99" stroke="#7a7a7a" stroke-width="1.25"/>
<line x1="0.00" y1="792.57" x2="9.80" y2="792.57" stroke="#7a7a7a" stroke-width="1.25"/>
<line x1="0.00" y1="828.65" x2="9.80" y2="828.65" stroke="#bcbcbc" stroke-width="2.6"/>
<line x1="0.00" y1="835.26" x2="9.80" y2="835.26" stroke="#7a7a7a" stroke-width="1.25"/>
<line x1="0.00" y1="837.15" x2="9.80" y2="837.15" stroke="#7a7a7a" stroke-width="1.25"/>
<line x1="0.00" y1="871.52" x2="9.80" y2="871.52" stroke="#7a7a7a" stroke-width="1.25"/>
<line x1="0.00" y1="884.18" x2="9.80" y2="884.18" stroke="#7a7a7a" stroke-width="1.25"/>
<line x1="0.00" y1="909.29" x2="9.80" y2="909.29" stroke="#7a7a7a" stroke-width="1.25"/>
<line x1="0.00" y1="913.07" x2="9.80" y2="913.07" stroke="#7a7a7a" stroke-width="1.25"/>
<line x1="0.00" y1="725.39" x2="0.00" y2="980.50" stroke="#000" stroke-width="3.2"/>
</g>
<text transform="translate(521.00 994.60) scale(1.0500 1)" text-anchor="middle">11</text>
<g transform="translate(564.90 0)">
<line x1="-9.60" y1="741.39" x2="0.00" y2="741.39" stroke="#000" stroke-width="2.7"/>
<line x1="-9.60" y1="757.44" x2="0.00" y2="757.44" stroke="#555" stroke-width="1.45"/>
<line x1="-9.60" y1="759.33" x2="0.00" y2="759.33" stroke="#000" stroke-width="2.7"/>
<line x1="-9.60" y1="761.59" x2="0.00" y2="761.59" stroke="#000" stroke-width="1.45"/>
<line x1="-9.60" y1="786.90" x2="0.00" y2="786.90" stroke="#000" stroke-width="1.45"/>
<line x1="-9.60" y1="795.78" x2="0.00" y2="795.78" stroke="#000" stroke-width="1.45"/>
<line x1="-9.60" y1="798.61" x2="0.00" y2="798.61" stroke="#000" stroke-width="1.45"/>
<line x1="-9.60" y1="801.83" x2="0.00" y2="801.83" stroke="#000" stroke-width="1.45"/>
<line x1="-9.60" y1="808.63" x2="0.00" y2="808.63" stroke="#000" stroke-width="1.45"/>
<line x1="-9.60" y1="818.82" x2="0.00" y2="818.82" stroke="#000" stroke-width="1.45"/>
<line x1="-9.60" y1="824.49" x2="0.00" y2="824.49" stroke="#000" stroke-width="1.45"/>
<line x1="-9.60" y1="832.05" x2="0.00" y2="832.05" stroke="#000" stroke-width="2.7"/>
<line x1="-9.60" y1="901.17" x2="0.00" y2="901.17" stroke="#555" stroke-width="1.45"/>
<line x1="-9.60" y1="903.06" x2="0.00" y2="903.06" stroke="#000" stroke-width="1.45"/>
<line x1="-9.60" y1="955.00" x2="0.00" y2="955.00" stroke="#000" stroke-width="1.45"/>
<line x1="-9.60" y1="970.11" x2="0.00" y2="970.11" stroke="#555" stroke-width="1.45"/>
<line x1="-9.60" y1="972.00" x2="0.00" y2="972.00" stroke="#000" stroke-width="1.45"/>
<line x1="0.00" y1="812.40" x2="9.80" y2="812.40" stroke="#7a7a7a" stroke-width="1.25"/>
<line x1="0.00" y1="818.07" x2="9.80" y2="818.07" stroke="#b0b0b0" stroke-width="1.2"/>
<line x1="0.00" y1="970.11" x2="9.80" y2="970.11" stroke="#7a7a7a" stroke-width="1.25"/>
<line x1="0.00" y1="726.44" x2="0.00" y2="980.50" stroke="#000" stroke-width="3.2"/>
</g>
<text transform="translate(564.90 994.60) scale(1.0500 1)" text-anchor="middle">12</text>
<g transform="translate(608.80 0)">
<line x1="-9.60" y1="729.09" x2="0.00" y2="729.09" stroke="#000" stroke-width="1.45"/>
<line x1="-9.60" y1="738.72" x2="0.00" y2="738.72" stroke="#000" stroke-width="1.45"/>
<line x1="-9.60" y1="759.50" x2="0.00" y2="759.50" stroke="#000" stroke-width="1.45"/>
<line x1="-9.60" y1="768.56" x2="0.00" y2="768.56" stroke="#000" stroke-width="1.45"/>
<line x1="-9.60" y1="778.95" x2="0.00" y2="778.95" stroke="#000" stroke-width="1.45"/>
<line x1="-9.60" y1="790.28" x2="0.00" y2="790.28" stroke="#000" stroke-width="1.45"/>
<line x1="-9.60" y1="810.49" x2="0.00" y2="810.49" stroke="#000" stroke-width="1.45"/>
<line x1="-9.60" y1="825.60" x2="0.00" y2="825.60" stroke="#000" stroke-width="1.45"/>
<line x1="-9.60" y1="853.37" x2="0.00" y2="853.37" stroke="#000" stroke-width="1.45"/>
<line x1="-9.60" y1="862.43" x2="0.00" y2="862.43" stroke="#000" stroke-width="2.7"/>
<line x1="-9.60" y1="865.27" x2="0.00" y2="865.27" stroke="#000" stroke-width="1.45"/>
<line x1="-9.60" y1="867.72" x2="0.00" y2="867.72" stroke="#000" stroke-width="1.45"/>
<line x1="-9.60" y1="872.26" x2="0.00" y2="872.26" stroke="#555" stroke-width="1.45"/>
<line x1="-9.60" y1="879.06" x2="0.00" y2="879.06" stroke="#000" stroke-width="1.45"/>
<line x1="-9.60" y1="888.88" x2="0.00" y2="888.88" stroke="#000" stroke-width="1.45"/>
<line x1="-9.60" y1="894.92" x2="0.00" y2="894.92" stroke="#000" stroke-width="1.45"/>
<line x1="-9.60" y1="900.78" x2="0.00" y2="900.78" stroke="#000" stroke-width="1.45"/>
<line x1="-9.60" y1="929.50" x2="0.00" y2="929.50" stroke="#555" stroke-width="1.45"/>
<line x1="-9.60" y1="931.39" x2="0.00" y2="931.39" stroke="#000" stroke-width="1.45"/>
<line x1="-9.60" y1="937.06" x2="0.00" y2="937.06" stroke="#000" stroke-width="2.7"/>
<line x1="-9.60" y1="939.32" x2="0.00" y2="939.32" stroke="#000" stroke-width="1.45"/>
<line x1="-9.60" y1="941.21" x2="0.00" y2="941.21" stroke="#000" stroke-width="1.45"/>
<line x1="-9.60" y1="954.81" x2="0.00" y2="954.81" stroke="#555" stroke-width="1.45"/>
<line x1="-9.60" y1="972.38" x2="0.00" y2="972.38" stroke="#000" stroke-width="2.7"/>
<line x1="0.00" y1="852.24" x2="9.80" y2="852.24" stroke="#b0b0b0" stroke-width="1.2"/>
<line x1="0.00" y1="877.17" x2="9.80" y2="877.17" stroke="#7a7a7a" stroke-width="1.25"/>
<line x1="0.00" y1="881.51" x2="9.80" y2="881.51" stroke="#7a7a7a" stroke-width="1.25"/>
<line x1="0.00" y1="891.52" x2="9.80" y2="891.52" stroke="#7a7a7a" stroke-width="1.25"/>
<line x1="0.00" y1="908.71" x2="9.80" y2="908.71" stroke="#7a7a7a" stroke-width="1.25"/>
<line x1="0.00" y1="728.53" x2="0.00" y2="980.50" stroke="#000" stroke-width="3.2"/>
</g>
<text transform="translate(608.80 994.60) scale(1.0500 1)" text-anchor="middle">13</text>
<g transform="translate(652.70 0)">
<line x1="-9.60" y1="748.16" x2="0.00" y2="748.16" stroke="#000" stroke-width="1.45"/>
<line x1="-9.60" y1="763.27" x2="0.00" y2="763.27" stroke="#000" stroke-width="1.45"/>
<line x1="-9.60" y1="770.83" x2="0.00" y2="770.83" stroke="#555" stroke-width="1.45"/>
<line x1="-9.60" y1="822.39" x2="0.00" y2="822.39" stroke="#000" stroke-width="1.45"/>
<line x1="-9.60" y1="831.65" x2="0.00" y2="831.65" stroke="#000" stroke-width="2.7"/>
<line x1="-9.60" y1="836.94" x2="0.00" y2="836.94" stroke="#000" stroke-width="1.45"/>
<line x1="-9.60" y1="839.77" x2="0.00" y2="839.77" stroke="#555" stroke-width="1.45"/>
<line x1="-9.60" y1="842.04" x2="0.00" y2="842.04" stroke="#000" stroke-width="1.45"/>
<line x1="-9.60" y1="846.76" x2="0.00" y2="846.76" stroke="#000" stroke-width="1.45"/>
<line x1="-9.60" y1="851.10" x2="0.00" y2="851.10" stroke="#000" stroke-width="1.45"/>
<line x1="-9.60" y1="860.17" x2="0.00" y2="860.17" stroke="#555" stroke-width="1.45"/>
<line x1="-9.60" y1="862.43" x2="0.00" y2="862.43" stroke="#000" stroke-width="2.7"/>
<line x1="-9.60" y1="864.70" x2="0.00" y2="864.70" stroke="#000" stroke-width="2.7"/>
<line x1="-9.60" y1="868.67" x2="0.00" y2="868.67" stroke="#000" stroke-width="1.45"/>
<line x1="-9.60" y1="872.07" x2="0.00" y2="872.07" stroke="#000" stroke-width="1.45"/>
<line x1="-9.60" y1="882.27" x2="0.00" y2="882.27" stroke="#000" stroke-width="1.45"/>
<line x1="-9.60" y1="906.82" x2="0.00" y2="906.82" stroke="#000" stroke-width="1.45"/>
<line x1="-9.60" y1="910.61" x2="0.00" y2="910.61" stroke="#000" stroke-width="2.7"/>
<line x1="-9.60" y1="913.82" x2="0.00" y2="913.82" stroke="#555" stroke-width="1.45"/>
<line x1="-9.60" y1="924.21" x2="0.00" y2="924.21" stroke="#000" stroke-width="1.45"/>
<line x1="-9.60" y1="933.28" x2="0.00" y2="933.28" stroke="#000" stroke-width="1.45"/>
<line x1="-9.60" y1="941.97" x2="0.00" y2="941.97" stroke="#555" stroke-width="1.45"/>
<line x1="0.00" y1="831.27" x2="9.80" y2="831.27" stroke="#7a7a7a" stroke-width="1.25"/>
<line x1="0.00" y1="861.68" x2="9.80" y2="861.68" stroke="#b0b0b0" stroke-width="1.2"/>
<line x1="0.00" y1="869.99" x2="9.80" y2="869.99" stroke="#7a7a7a" stroke-width="1.25"/>
<line x1="0.00" y1="914.01" x2="9.80" y2="914.01" stroke="#7a7a7a" stroke-width="1.25"/>
<line x1="0.00" y1="718.28" x2="0.00" y2="980.50" stroke="#000" stroke-width="3.2"/>
</g>
<text transform="translate(652.70 994.60) scale(1.0500 1)" text-anchor="middle">14</text>
<g transform="translate(696.60 0)">
<line x1="-9.60" y1="769.88" x2="0.00" y2="769.88" stroke="#000" stroke-width="2.0"/>
<line x1="-9.60" y1="772.34" x2="0.00" y2="772.34" stroke="#000" stroke-width="2.0"/>
<line x1="-9.60" y1="774.61" x2="0.00" y2="774.61" stroke="#000" stroke-width="2.0"/>
<line x1="-9.60" y1="777.06" x2="0.00" y2="777.06" stroke="#000" stroke-width="2.0"/>
<line x1="-9.60" y1="778.95" x2="0.00" y2="778.95" stroke="#000" stroke-width="1.45"/>
<line x1="-9.60" y1="783.67" x2="0.00" y2="783.67" stroke="#000" stroke-width="1.45"/>
<line x1="-9.60" y1="787.83" x2="0.00" y2="787.83" stroke="#000" stroke-width="2.7"/>
<line x1="-9.60" y1="789.72" x2="0.00" y2="789.72" stroke="#000" stroke-width="1.45"/>
<line x1="-9.60" y1="793.12" x2="0.00" y2="793.12" stroke="#000" stroke-width="1.45"/>
<line x1="-9.60" y1="801.62" x2="0.00" y2="801.62" stroke="#000" stroke-width="1.45"/>
<line x1="-9.60" y1="808.60" x2="0.00" y2="808.60" stroke="#000" stroke-width="1.45"/>
<line x1="-9.60" y1="817.10" x2="0.00" y2="817.10" stroke="#000" stroke-width="2.7"/>
<line x1="-9.60" y1="818.99" x2="0.00" y2="818.99" stroke="#555" stroke-width="1.45"/>
<line x1="-9.60" y1="820.88" x2="0.00" y2="820.88" stroke="#000" stroke-width="1.45"/>
<line x1="-9.60" y1="822.77" x2="0.00" y2="822.77" stroke="#000" stroke-width="1.45"/>
<line x1="-9.60" y1="824.47" x2="0.00" y2="824.47" stroke="#000" stroke-width="1.45"/>
<line x1="-9.60" y1="865.46" x2="0.00" y2="865.46" stroke="#000" stroke-width="1.45"/>
<line x1="-9.60" y1="867.35" x2="0.00" y2="867.35" stroke="#000" stroke-width="1.45"/>
<line x1="-9.60" y1="899.27" x2="0.00" y2="899.27" stroke="#000" stroke-width="1.45"/>
<line x1="-9.60" y1="903.04" x2="0.00" y2="903.04" stroke="#000" stroke-width="1.45"/>
<line x1="-9.60" y1="907.76" x2="0.00" y2="907.76" stroke="#000" stroke-width="1.45"/>
<line x1="-9.60" y1="914.77" x2="0.00" y2="914.77" stroke="#555" stroke-width="1.45"/>
<line x1="-9.60" y1="953.30" x2="0.00" y2="953.30" stroke="#000" stroke-width="1.45"/>
<line x1="0.00" y1="764.78" x2="9.80" y2="764.78" stroke="#b0b0b0" stroke-width="1.2"/>
<line x1="0.00" y1="766.67" x2="9.80" y2="766.67" stroke="#b0b0b0" stroke-width="1.2"/>
<line x1="0.00" y1="816.54" x2="9.80" y2="816.54" stroke="#7a7a7a" stroke-width="1.25"/>
<line x1="0.00" y1="821.64" x2="9.80" y2="821.64" stroke="#b0b0b0" stroke-width="1.2"/>
<line x1="0.00" y1="763.68" x2="0.00" y2="980.50" stroke="#000" stroke-width="3.2"/>
</g>
<text transform="translate(696.60 994.60) scale(1.0500 1)" text-anchor="middle">15</text>
<g transform="translate(740.50 0)">
<line x1="-9.60" y1="776.50" x2="0.00" y2="776.50" stroke="#000" stroke-width="1.45"/>
<line x1="-9.60" y1="783.67" x2="0.00" y2="783.67" stroke="#000" stroke-width="1.45"/>
<line x1="-9.60" y1="786.51" x2="0.00" y2="786.51" stroke="#000" stroke-width="1.45"/>
<line x1="-9.60" y1="789.34" x2="0.00" y2="789.34" stroke="#000" stroke-width="1.45"/>
<line x1="-9.60" y1="791.23" x2="0.00" y2="791.23" stroke="#000" stroke-width="2.7"/>
<line x1="-9.60" y1="825.98" x2="0.00" y2="825.98" stroke="#000" stroke-width="1.45"/>
<line x1="-9.60" y1="857.90" x2="0.00" y2="857.90" stroke="#000" stroke-width="1.45"/>
<line x1="-9.60" y1="862.43" x2="0.00" y2="862.43" stroke="#000" stroke-width="1.45"/>
<line x1="-9.60" y1="879.43" x2="0.00" y2="879.43" stroke="#000" stroke-width="1.45"/>
<line x1="-9.60" y1="885.67" x2="0.00" y2="885.67" stroke="#000" stroke-width="2.7"/>
<line x1="-9.60" y1="886.99" x2="0.00" y2="886.99" stroke="#000" stroke-width="1.45"/>
<line x1="-9.60" y1="899.27" x2="0.00" y2="899.27" stroke="#000" stroke-width="2.7"/>
<line x1="-9.60" y1="903.42" x2="0.00" y2="903.42" stroke="#000" stroke-width="1.45"/>
<line x1="-9.60" y1="907.39" x2="0.00" y2="907.39" stroke="#000" stroke-width="2.7"/>
<line x1="-9.60" y1="913.26" x2="0.00" y2="913.26" stroke="#000" stroke-width="2.7"/>
<line x1="-9.60" y1="919.49" x2="0.00" y2="919.49" stroke="#000" stroke-width="1.45"/>
<line x1="-9.60" y1="924.21" x2="0.00" y2="924.21" stroke="#000" stroke-width="1.45"/>
<line x1="-9.60" y1="939.32" x2="0.00" y2="939.32" stroke="#000" stroke-width="1.45"/>
<line x1="-9.60" y1="941.21" x2="0.00" y2="941.21" stroke="#000" stroke-width="1.45"/>
<line x1="-9.60" y1="943.10" x2="0.00" y2="943.10" stroke="#000" stroke-width="1.45"/>
<line x1="-9.60" y1="944.80" x2="0.00" y2="944.80" stroke="#555" stroke-width="1.45"/>
<line x1="0.00" y1="821.64" x2="9.80" y2="821.64" stroke="#b0b0b0" stroke-width="1.2"/>
<line x1="0.00" y1="840.90" x2="9.80" y2="840.90" stroke="#7a7a7a" stroke-width="1.25"/>
<line x1="0.00" y1="861.68" x2="9.80" y2="861.68" stroke="#b0b0b0" stroke-width="1.2"/>
<line x1="0.00" y1="883.78" x2="9.80" y2="883.78" stroke="#b0b0b0" stroke-width="1.2"/>
<line x1="0.00" y1="886.23" x2="9.80" y2="886.23" stroke="#7a7a7a" stroke-width="1.25"/>
<line x1="0.00" y1="888.88" x2="9.80" y2="888.88" stroke="#b0b0b0" stroke-width="1.2"/>
<line x1="0.00" y1="918.92" x2="9.80" y2="918.92" stroke="#7a7a7a" stroke-width="1.25"/>
<line x1="0.00" y1="938.57" x2="9.80" y2="938.57" stroke="#b0b0b0" stroke-width="1.2"/>
<line x1="0.00" y1="946.12" x2="9.80" y2="946.12" stroke="#7a7a7a" stroke-width="1.25"/>
<line x1="0.00" y1="774.56" x2="0.00" y2="980.50" stroke="#000" stroke-width="3.2"/>
</g>
<text transform="translate(740.50 994.60) scale(1.0500 1)" text-anchor="middle">16</text>
<g transform="translate(784.40 0)">
<line x1="-9.60" y1="812.96" x2="0.00" y2="812.96" stroke="#000" stroke-width="1.45"/>
<line x1="-9.60" y1="821.65" x2="0.00" y2="821.65" stroke="#555" stroke-width="1.45"/>
<line x1="-9.60" y1="867.55" x2="0.00" y2="867.55" stroke="#000" stroke-width="1.45"/>
<line x1="-9.60" y1="871.89" x2="0.00" y2="871.89" stroke="#000" stroke-width="1.45"/>
<line x1="-9.60" y1="881.34" x2="0.00" y2="881.34" stroke="#000" stroke-width="1.45"/>
<line x1="-9.60" y1="884.93" x2="0.00" y2="884.93" stroke="#000" stroke-width="1.45"/>
<line x1="-9.60" y1="901.17" x2="0.00" y2="901.17" stroke="#555" stroke-width="1.45"/>
<line x1="-9.60" y1="903.44" x2="0.00" y2="903.44" stroke="#555" stroke-width="1.45"/>
<line x1="-9.60" y1="907.21" x2="0.00" y2="907.21" stroke="#555" stroke-width="1.45"/>
<line x1="-9.60" y1="909.48" x2="0.00" y2="909.48" stroke="#000" stroke-width="1.45"/>
<line x1="-9.60" y1="912.50" x2="0.00" y2="912.50" stroke="#000" stroke-width="1.45"/>
<line x1="-9.60" y1="915.71" x2="0.00" y2="915.71" stroke="#000" stroke-width="1.45"/>
<line x1="-9.60" y1="919.49" x2="0.00" y2="919.49" stroke="#000" stroke-width="2.7"/>
<line x1="-9.60" y1="927.61" x2="0.00" y2="927.61" stroke="#000" stroke-width="2.7"/>
<line x1="-9.60" y1="930.26" x2="0.00" y2="930.26" stroke="#555" stroke-width="1.45"/>
<line x1="-9.60" y1="963.88" x2="0.00" y2="963.88" stroke="#000" stroke-width="1.45"/>
<line x1="0.00" y1="830.91" x2="9.80" y2="830.91" stroke="#7a7a7a" stroke-width="1.25"/>
<line x1="0.00" y1="908.16" x2="9.80" y2="908.16" stroke="#7a7a7a" stroke-width="1.25"/>
<line x1="0.00" y1="780.83" x2="0.00" y2="980.50" stroke="#000" stroke-width="3.2"/>
</g>
<text transform="translate(784.40 994.60) scale(1.0500 1)" text-anchor="middle">17</text>
<g transform="translate(828.30 0)">
<line x1="-9.60" y1="802.95" x2="0.00" y2="802.95" stroke="#000" stroke-width="1.45"/>
<line x1="-9.60" y1="807.68" x2="0.00" y2="807.68" stroke="#000" stroke-width="1.45"/>
<line x1="-9.60" y1="810.51" x2="0.00" y2="810.51" stroke="#555" stroke-width="1.45"/>
<line x1="-9.60" y1="824.49" x2="0.00" y2="824.49" stroke="#000" stroke-width="1.45"/>
<line x1="-9.60" y1="849.04" x2="0.00" y2="849.04" stroke="#000" stroke-width="1.45"/>
<line x1="-9.60" y1="850.93" x2="0.00" y2="850.93" stroke="#555" stroke-width="1.45"/>
<line x1="-9.60" y1="852.82" x2="0.00" y2="852.82" stroke="#555" stroke-width="1.45"/>
<line x1="-9.60" y1="861.88" x2="0.00" y2="861.88" stroke="#000" stroke-width="1.45"/>
<line x1="-9.60" y1="868.87" x2="0.00" y2="868.87" stroke="#555" stroke-width="1.45"/>
<line x1="-9.60" y1="870.19" x2="0.00" y2="870.19" stroke="#555" stroke-width="1.45"/>
<line x1="-9.60" y1="881.53" x2="0.00" y2="881.53" stroke="#000" stroke-width="1.45"/>
<line x1="-9.60" y1="892.67" x2="0.00" y2="892.67" stroke="#000" stroke-width="1.45"/>
<line x1="-9.60" y1="901.17" x2="0.00" y2="901.17" stroke="#000" stroke-width="2.7"/>
<line x1="-9.60" y1="904.00" x2="0.00" y2="904.00" stroke="#000" stroke-width="1.45"/>
<line x1="-9.60" y1="936.87" x2="0.00" y2="936.87" stroke="#000" stroke-width="1.45"/>
<line x1="-9.60" y1="954.24" x2="0.00" y2="954.24" stroke="#000" stroke-width="1.45"/>
<line x1="0.00" y1="913.26" x2="9.80" y2="913.26" stroke="#7a7a7a" stroke-width="1.25"/>
<line x1="0.00" y1="790.25" x2="0.00" y2="980.50" stroke="#000" stroke-width="3.2"/>
</g>
<text transform="translate(828.30 994.60) scale(1.0500 1)" text-anchor="middle">18</text>
<g transform="translate(872.20 0)">
<line x1="-9.60" y1="856.78" x2="0.00" y2="856.78" stroke="#000" stroke-width="2.7"/>
<line x1="-9.60" y1="861.32" x2="0.00" y2="861.32" stroke="#000" stroke-width="1.45"/>
<line x1="-9.60" y1="881.15" x2="0.00" y2="881.15" stroke="#000" stroke-width="2.7"/>
<line x1="-9.60" y1="882.66" x2="0.00" y2="882.66" stroke="#000" stroke-width="1.45"/>
<line x1="-9.60" y1="885.87" x2="0.00" y2="885.87" stroke="#000" stroke-width="1.45"/>
<line x1="-9.60" y1="889.27" x2="0.00" y2="889.27" stroke="#000" stroke-width="1.45"/>
<line x1="-9.60" y1="894.75" x2="0.00" y2="894.75" stroke="#555" stroke-width="1.45"/>
<line x1="-9.60" y1="903.81" x2="0.00" y2="903.81" stroke="#000" stroke-width="1.45"/>
<line x1="-9.60" y1="916.66" x2="0.00" y2="916.66" stroke="#000" stroke-width="2.7"/>
<line x1="-9.60" y1="927.05" x2="0.00" y2="927.05" stroke="#555" stroke-width="1.45"/>
<line x1="-9.60" y1="928.93" x2="0.00" y2="928.93" stroke="#000" stroke-width="2.7"/>
<line x1="-9.60" y1="933.66" x2="0.00" y2="933.66" stroke="#000" stroke-width="1.45"/>
<line x1="-9.60" y1="944.05" x2="0.00" y2="944.05" stroke="#000" stroke-width="1.45"/>
<line x1="-9.60" y1="953.87" x2="0.00" y2="953.87" stroke="#000" stroke-width="1.45"/>
<line x1="-9.60" y1="958.21" x2="0.00" y2="958.21" stroke="#000" stroke-width="2.7"/>
<line x1="-9.60" y1="966.71" x2="0.00" y2="966.71" stroke="#000" stroke-width="2.7"/>
<line x1="-9.60" y1="969.54" x2="0.00" y2="969.54" stroke="#000" stroke-width="1.45"/>
<line x1="-9.60" y1="972.94" x2="0.00" y2="972.94" stroke="#000" stroke-width="2.7"/>
<line x1="0.00" y1="904.57" x2="9.80" y2="904.57" stroke="#b0b0b0" stroke-width="1.2"/>
<line x1="0.00" y1="969.17" x2="9.80" y2="969.17" stroke="#bcbcbc" stroke-width="2.6"/>
<line x1="0.00" y1="851.96" x2="0.00" y2="980.50" stroke="#000" stroke-width="3.2"/>
</g>
<text transform="translate(872.20 994.60) scale(1.0500 1)" text-anchor="middle">19</text>
<g transform="translate(916.10 0)">
<line x1="-9.60" y1="639.27" x2="0.00" y2="639.27" stroke="#000" stroke-width="1.45"/>
<line x1="-9.60" y1="649.65" x2="0.00" y2="649.65" stroke="#000" stroke-width="1.45"/>
<line x1="-9.60" y1="657.78" x2="0.00" y2="657.78" stroke="#000" stroke-width="2.7"/>
<line x1="-9.60" y1="663.82" x2="0.00" y2="663.82" stroke="#000" stroke-width="1.45"/>
<line x1="-9.60" y1="667.79" x2="0.00" y2="667.79" stroke="#000" stroke-width="2.7"/>
<line x1="-9.60" y1="692.91" x2="0.00" y2="692.91" stroke="#000" stroke-width="2.7"/>
<line x1="-9.60" y1="702.16" x2="0.00" y2="702.16" stroke="#000" stroke-width="2.7"/>
<line x1="-9.60" y1="703.86" x2="0.00" y2="703.86" stroke="#000" stroke-width="2.7"/>
<line x1="-9.60" y1="707.45" x2="0.00" y2="707.45" stroke="#000" stroke-width="1.45"/>
<line x1="-9.60" y1="730.30" x2="0.00" y2="730.30" stroke="#000" stroke-width="1.45"/>
<line x1="-9.60" y1="750.89" x2="0.00" y2="750.89" stroke="#000" stroke-width="1.45"/>
<line x1="-9.60" y1="753.35" x2="0.00" y2="753.35" stroke="#000" stroke-width="1.45"/>
<line x1="-9.60" y1="762.98" x2="0.00" y2="762.98" stroke="#000" stroke-width="2.7"/>
<line x1="-9.60" y1="768.46" x2="0.00" y2="768.46" stroke="#000" stroke-width="1.45"/>
<line x1="-9.60" y1="774.50" x2="0.00" y2="774.50" stroke="#000" stroke-width="1.45"/>
<line x1="-9.60" y1="784.70" x2="0.00" y2="784.70" stroke="#000" stroke-width="1.45"/>
<line x1="-9.60" y1="793.39" x2="0.00" y2="793.39" stroke="#000" stroke-width="1.45"/>
<line x1="-9.60" y1="812.65" x2="0.00" y2="812.65" stroke="#000" stroke-width="1.45"/>
<line x1="-9.60" y1="833.55" x2="0.00" y2="833.55" stroke="#000" stroke-width="1.45"/>
<line x1="-9.60" y1="841.11" x2="0.00" y2="841.11" stroke="#000" stroke-width="1.45"/>
<line x1="-9.60" y1="851.87" x2="0.00" y2="851.87" stroke="#000" stroke-width="1.45"/>
<line x1="-9.60" y1="857.16" x2="0.00" y2="857.16" stroke="#000" stroke-width="1.45"/>
<line x1="-9.60" y1="862.45" x2="0.00" y2="862.45" stroke="#555" stroke-width="1.45"/>
<line x1="-9.60" y1="864.34" x2="0.00" y2="864.34" stroke="#000" stroke-width="2.7"/>
<line x1="-9.60" y1="879.45" x2="0.00" y2="879.45" stroke="#000" stroke-width="1.45"/>
<line x1="-9.60" y1="884.55" x2="0.00" y2="884.55" stroke="#000" stroke-width="1.45"/>
<line x1="-9.60" y1="909.29" x2="0.00" y2="909.29" stroke="#000" stroke-width="2.7"/>
<line x1="-9.60" y1="932.71" x2="0.00" y2="932.71" stroke="#555" stroke-width="1.45"/>
<line x1="-9.60" y1="965.20" x2="0.00" y2="965.20" stroke="#000" stroke-width="2.7"/>
<line x1="0.00" y1="679.50" x2="9.80" y2="679.50" stroke="#7a7a7a" stroke-width="1.25"/>
<line x1="0.00" y1="706.13" x2="9.80" y2="706.13" stroke="#7a7a7a" stroke-width="1.25"/>
<line x1="0.00" y1="761.85" x2="9.80" y2="761.85" stroke="#7a7a7a" stroke-width="1.25"/>
<line x1="0.00" y1="781.11" x2="9.80" y2="781.11" stroke="#7a7a7a" stroke-width="1.25"/>
<line x1="0.00" y1="806.61" x2="9.80" y2="806.61" stroke="#b0b0b0" stroke-width="1.2"/>
<line x1="0.00" y1="899.28" x2="9.80" y2="899.28" stroke="#7a7a7a" stroke-width="1.25"/>
<line x1="0.00" y1="964.44" x2="9.80" y2="964.44" stroke="#7a7a7a" stroke-width="1.25"/>
<line x1="0.00" y1="631.46" x2="0.00" y2="980.50" stroke="#000" stroke-width="3.2"/>
</g>
<text transform="translate(916.10 994.60) scale(1.0500 1)" text-anchor="middle">X</text>
<text transform="translate(458.30 1008.20) scale(1.0500 1)" style="font-size:11.38px" text-anchor="middle">Chromosomes</text>
<line x1="446.00" y1="649.20" x2="455.60" y2="649.20" stroke="#000" stroke-width="1.25"/>
<text transform="translate(461.00 653.00) scale(1.0500 1)" text-anchor="start">Occluded genes (left side of chromosomes)</text>
<line x1="446.00" y1="663.40" x2="455.60" y2="663.40" stroke="#9a9a9a" stroke-width="1.25"/>
<text transform="translate(461.00 667.20) scale(1.0500 1)" text-anchor="start">Activatable genes (right side of chromosomes)</text>
<text transform="translate(-1.20 1043.60)" style="font-size:19.50px" text-anchor="start" class="pl">G</text>
<rect x="59.25" y="1065.78" width="20.50" height="141.02" fill="#aeaeae" stroke="#000" stroke-width="1.5"/>
<line x1="69.50" y1="1064.49" x2="69.50" y2="1066.73" stroke="#000" stroke-width="1.55"/>
<line x1="64.00" y1="1064.49" x2="75.00" y2="1064.49" stroke="#000" stroke-width="1.55"/>
<line x1="64.00" y1="1066.73" x2="75.00" y2="1066.73" stroke="#000" stroke-width="1.55"/>
<text transform="translate(75.50 1215.20) rotate(-45) scale(1.0500 1)" style="font-size:11.05px" text-anchor="end">Expressed genes</text>
<rect x="87.75" y="1097.47" width="20.50" height="109.33" fill="#fff" stroke="#000" stroke-width="1.5"/>
<line x1="98.00" y1="1090.68" x2="98.00" y2="1103.41" stroke="#000" stroke-width="1.55"/>
<line x1="92.50" y1="1090.68" x2="103.50" y2="1090.68" stroke="#000" stroke-width="1.55"/>
<line x1="92.50" y1="1103.41" x2="103.50" y2="1103.41" stroke="#000" stroke-width="1.55"/>
<text transform="translate(104.00 1215.20) rotate(-45) scale(1.0500 1)" style="font-size:11.05px" text-anchor="end">Activatable genes</text>
<rect x="116.05" y="1078.76" width="20.50" height="128.04" fill="#000" stroke="#000" stroke-width="1.5"/>
<line x1="126.30" y1="1075.21" x2="126.30" y2="1082.20" stroke="#000" stroke-width="1.55"/>
<line x1="120.80" y1="1075.21" x2="131.80" y2="1075.21" stroke="#000" stroke-width="1.55"/>
<line x1="120.80" y1="1082.20" x2="131.80" y2="1082.20" stroke="#000" stroke-width="1.55"/>
<text transform="translate(132.30 1215.20) rotate(-45) scale(1.0500 1)" style="font-size:11.05px" text-anchor="end">Occluded genes</text>
<line x1="50.20" y1="1056.10" x2="50.20" y2="1207.60" stroke="#000" stroke-width="1.8"/>
<line x1="45.60" y1="1206.70" x2="50.20" y2="1206.70" stroke="#000" stroke-width="1.8"/>
<text transform="translate(42.60 1210.50) scale(1.0500 1)" style="font-size:11.43px" text-anchor="end">0</text>
<line x1="45.60" y1="1181.75" x2="50.20" y2="1181.75" stroke="#000" stroke-width="1.8"/>
<text transform="translate(42.60 1185.55) scale(1.0500 1)" style="font-size:11.43px" text-anchor="end">1</text>
<line x1="45.60" y1="1156.80" x2="50.20" y2="1156.80" stroke="#000" stroke-width="1.8"/>
<text transform="translate(42.60 1160.60) scale(1.0500 1)" style="font-size:11.43px" text-anchor="end">2</text>
<line x1="45.60" y1="1131.85" x2="50.20" y2="1131.85" stroke="#000" stroke-width="1.8"/>
<text transform="translate(42.60 1135.65) scale(1.0500 1)" style="font-size:11.43px" text-anchor="end">3</text>
<line x1="45.60" y1="1106.90" x2="50.20" y2="1106.90" stroke="#000" stroke-width="1.8"/>
<text transform="translate(42.60 1110.70) scale(1.0500 1)" style="font-size:11.43px" text-anchor="end">4</text>
<line x1="45.60" y1="1081.95" x2="50.20" y2="1081.95" stroke="#000" stroke-width="1.8"/>
<text transform="translate(42.60 1085.75) scale(1.0500 1)" style="font-size:11.43px" text-anchor="end">5</text>
<line x1="45.60" y1="1057.00" x2="50.20" y2="1057.00" stroke="#000" stroke-width="1.8"/>
<text transform="translate(42.60 1060.80) scale(1.0500 1)" style="font-size:11.43px" text-anchor="end">6</text>
<text transform="translate(28.70 1132.30) rotate(-90) scale(1.0500 1)" style="font-size:10.86px" text-anchor="middle">Average length of transcripts (kb)</text>
<text transform="translate(162.20 1043.80)" style="font-size:19.50px" text-anchor="start" class="pl">H</text>
<rect x="242.75" y="1109.72" width="20.40" height="97.08" fill="#aeaeae" stroke="#000" stroke-width="1.5"/>
<line x1="252.95" y1="1107.93" x2="252.95" y2="1111.16" stroke="#000" stroke-width="1.55"/>
<line x1="246.45" y1="1107.93" x2="259.45" y2="1107.93" stroke="#000" stroke-width="1.55"/>
<line x1="246.45" y1="1111.16" x2="259.45" y2="1111.16" stroke="#000" stroke-width="1.55"/>
<text transform="translate(259.75 1215.20) rotate(-45) scale(1.0500 1)" style="font-size:11.05px" text-anchor="end">Expressed genes</text>
<rect x="270.05" y="1102.52" width="20.40" height="104.28" fill="#fff" stroke="#000" stroke-width="1.5"/>
<line x1="280.25" y1="1088.08" x2="280.25" y2="1117.86" stroke="#000" stroke-width="1.55"/>
<line x1="274.75" y1="1088.08" x2="285.75" y2="1088.08" stroke="#000" stroke-width="1.55"/>
<line x1="274.75" y1="1117.86" x2="285.75" y2="1117.86" stroke="#000" stroke-width="1.55"/>
<text transform="translate(287.05 1215.20) rotate(-45) scale(1.0500 1)" style="font-size:11.05px" text-anchor="end">Activatable genes</text>
<rect x="297.75" y="1059.59" width="20.40" height="147.21" fill="#000" stroke="#000" stroke-width="1.5"/>
<line x1="307.95" y1="1049.36" x2="307.95" y2="1069.71" stroke="#000" stroke-width="1.55"/>
<line x1="302.45" y1="1049.36" x2="313.45" y2="1049.36" stroke="#000" stroke-width="1.55"/>
<line x1="302.45" y1="1069.71" x2="313.45" y2="1069.71" stroke="#000" stroke-width="1.55"/>
<text transform="translate(314.75 1215.20) rotate(-45) scale(1.0500 1)" style="font-size:11.05px" text-anchor="end">Occluded genes</text>
<line x1="233.80" y1="1056.90" x2="233.80" y2="1207.60" stroke="#000" stroke-width="1.8"/>
<line x1="229.20" y1="1206.70" x2="233.80" y2="1206.70" stroke="#000" stroke-width="1.8"/>
<text transform="translate(226.90 1210.50) scale(1.0500 1)" style="font-size:11.43px" text-anchor="end">0</text>
<line x1="229.20" y1="1181.88" x2="233.80" y2="1181.88" stroke="#000" stroke-width="1.8"/>
<text transform="translate(226.90 1185.68) scale(1.0500 1)" style="font-size:11.43px" text-anchor="end">10</text>
<line x1="229.20" y1="1157.07" x2="233.80" y2="1157.07" stroke="#000" stroke-width="1.8"/>
<text transform="translate(226.90 1160.87) scale(1.0500 1)" style="font-size:11.43px" text-anchor="end">20</text>
<line x1="229.20" y1="1132.25" x2="233.80" y2="1132.25" stroke="#000" stroke-width="1.8"/>
<text transform="translate(226.90 1136.05) scale(1.0500 1)" style="font-size:11.43px" text-anchor="end">30</text>
<line x1="229.20" y1="1107.43" x2="233.80" y2="1107.43" stroke="#000" stroke-width="1.8"/>
<text transform="translate(226.90 1111.23) scale(1.0500 1)" style="font-size:11.43px" text-anchor="end">40</text>
<line x1="229.20" y1="1082.62" x2="233.80" y2="1082.62" stroke="#000" stroke-width="1.8"/>
<text transform="translate(226.90 1086.42) scale(1.0500 1)" style="font-size:11.43px" text-anchor="end">50</text>
<line x1="229.20" y1="1057.80" x2="233.80" y2="1057.80" stroke="#000" stroke-width="1.8"/>
<text transform="translate(226.90 1061.60) scale(1.0500 1)" style="font-size:11.43px" text-anchor="end">60</text>
<text transform="translate(191.40 1127.20) rotate(-90) scale(1.0500 1)" style="font-size:10.86px" text-anchor="middle">Average genomic length</text>
<text transform="translate(205.80 1127.20) rotate(-90) scale(1.0500 1)" style="font-size:10.86px" text-anchor="middle">of genes (kb)</text>
<text transform="translate(345.60 1043.80)" style="font-size:19.50px" text-anchor="start" class="pl">I</text>
<rect x="413.65" y="1129.52" width="20.40" height="77.08" fill="#aeaeae" stroke="#000" stroke-width="1.5"/>
<line x1="423.85" y1="1127.43" x2="423.85" y2="1132.30" stroke="#000" stroke-width="1.55"/>
<line x1="416.35" y1="1127.43" x2="431.35" y2="1127.43" stroke="#000" stroke-width="1.55"/>
<line x1="416.35" y1="1132.30" x2="431.35" y2="1132.30" stroke="#000" stroke-width="1.55"/>
<text transform="translate(431.85 1215.00) rotate(-45) scale(1.0500 1)" style="font-size:11.05px" text-anchor="end">Expressed genes</text>
<rect x="442.45" y="1120.88" width="20.40" height="85.72" fill="#fff" stroke="#000" stroke-width="1.5"/>
<line x1="452.65" y1="1103.38" x2="452.65" y2="1138.59" stroke="#000" stroke-width="1.55"/>
<line x1="447.15" y1="1103.38" x2="458.15" y2="1103.38" stroke="#000" stroke-width="1.55"/>
<line x1="447.15" y1="1138.59" x2="458.15" y2="1138.59" stroke="#000" stroke-width="1.55"/>
<text transform="translate(460.65 1215.00) rotate(-45) scale(1.0500 1)" style="font-size:11.05px" text-anchor="end">Activatable genes</text>
<rect x="471.05" y="1067.90" width="20.40" height="138.70" fill="#000" stroke="#000" stroke-width="1.5"/>
<line x1="481.25" y1="1052.76" x2="481.25" y2="1082.94" stroke="#000" stroke-width="1.55"/>
<line x1="475.75" y1="1052.76" x2="486.75" y2="1052.76" stroke="#000" stroke-width="1.55"/>
<line x1="475.75" y1="1082.94" x2="486.75" y2="1082.94" stroke="#000" stroke-width="1.55"/>
<text transform="translate(489.25 1215.00) rotate(-45) scale(1.0500 1)" style="font-size:11.05px" text-anchor="end">Occluded genes</text>
<line x1="404.90" y1="1048.40" x2="404.90" y2="1207.40" stroke="#000" stroke-width="1.8"/>
<line x1="400.30" y1="1206.50" x2="404.90" y2="1206.50" stroke="#000" stroke-width="1.8"/>
<text transform="translate(397.30 1210.30) scale(1.0500 1)" style="font-size:11.43px" text-anchor="end">0</text>
<line x1="400.30" y1="1175.06" x2="404.90" y2="1175.06" stroke="#000" stroke-width="1.8"/>
<text transform="translate(397.30 1178.86) scale(1.0500 1)" style="font-size:11.43px" text-anchor="end">2</text>
<line x1="400.30" y1="1143.62" x2="404.90" y2="1143.62" stroke="#000" stroke-width="1.8"/>
<text transform="translate(397.30 1147.42) scale(1.0500 1)" style="font-size:11.43px" text-anchor="end">4</text>
<line x1="400.30" y1="1112.18" x2="404.90" y2="1112.18" stroke="#000" stroke-width="1.8"/>
<text transform="translate(397.30 1115.98) scale(1.0500 1)" style="font-size:11.43px" text-anchor="end">6</text>
<line x1="400.30" y1="1080.74" x2="404.90" y2="1080.74" stroke="#000" stroke-width="1.8"/>
<text transform="translate(397.30 1084.54) scale(1.0500 1)" style="font-size:11.43px" text-anchor="end">8</text>
<line x1="400.30" y1="1049.30" x2="404.90" y2="1049.30" stroke="#000" stroke-width="1.8"/>
<text transform="translate(397.30 1053.10) scale(1.0500 1)" style="font-size:11.43px" text-anchor="end">10</text>
<text transform="translate(368.50 1128.00) rotate(-90) scale(1.0500 1)" style="font-size:10.86px" text-anchor="middle">Average length of conserved</text>
<text transform="translate(383.50 1128.00) rotate(-90) scale(1.0500 1)" style="font-size:10.86px" text-anchor="middle">noncoding sequences (kb)</text>
<text transform="translate(520.30 1043.60)" style="font-size:19.50px" text-anchor="start" class="pl">J</text>
<rect x="604.75" y="1075.42" width="16.90" height="131.68" fill="#383838" stroke="#000" stroke-width="1.5"/>
<rect x="621.75" y="1194.04" width="17.70" height="13.06" fill="#cbcbcb" stroke="#000" stroke-width="1.5"/>
<line x1="612.85" y1="1074.75" x2="612.85" y2="1076.00" stroke="#000" stroke-width="1.55"/>
<line x1="608.10" y1="1074.75" x2="617.60" y2="1074.75" stroke="#000" stroke-width="1.55"/>
<line x1="608.10" y1="1076.00" x2="617.60" y2="1076.00" stroke="#000" stroke-width="1.55"/>
<line x1="630.95" y1="1193.52" x2="630.95" y2="1194.46" stroke="#000" stroke-width="1.55"/>
<line x1="626.20" y1="1193.52" x2="635.70" y2="1193.52" stroke="#000" stroke-width="1.55"/>
<line x1="626.20" y1="1194.46" x2="635.70" y2="1194.46" stroke="#000" stroke-width="1.55"/>
<rect x="650.85" y="1151.89" width="16.90" height="55.21" fill="#383838" stroke="#000" stroke-width="1.5"/>
<rect x="667.85" y="1167.56" width="17.70" height="39.54" fill="#cbcbcb" stroke="#000" stroke-width="1.5"/>
<line x1="658.95" y1="1146.04" x2="658.95" y2="1157.48" stroke="#000" stroke-width="1.55"/>
<line x1="654.20" y1="1146.04" x2="663.70" y2="1146.04" stroke="#000" stroke-width="1.55"/>
<line x1="654.20" y1="1157.48" x2="663.70" y2="1157.48" stroke="#000" stroke-width="1.55"/>
<line x1="677.05" y1="1161.71" x2="677.05" y2="1173.62" stroke="#000" stroke-width="1.55"/>
<line x1="672.30" y1="1161.71" x2="681.80" y2="1161.71" stroke="#000" stroke-width="1.55"/>
<line x1="672.30" y1="1173.62" x2="681.80" y2="1173.62" stroke="#000" stroke-width="1.55"/>
<rect x="697.05" y="1131.21" width="16.90" height="75.89" fill="#383838" stroke="#000" stroke-width="1.5"/>
<rect x="714.05" y="1188.87" width="17.70" height="18.23" fill="#cbcbcb" stroke="#000" stroke-width="1.5"/>
<line x1="705.15" y1="1128.34" x2="705.15" y2="1134.13" stroke="#000" stroke-width="1.55"/>
<line x1="700.40" y1="1128.34" x2="709.90" y2="1128.34" stroke="#000" stroke-width="1.55"/>
<line x1="700.40" y1="1134.13" x2="709.90" y2="1134.13" stroke="#000" stroke-width="1.55"/>
<line x1="723.25" y1="1186.16" x2="723.25" y2="1191.49" stroke="#000" stroke-width="1.55"/>
<line x1="718.50" y1="1186.16" x2="728.00" y2="1186.16" stroke="#000" stroke-width="1.55"/>
<line x1="718.50" y1="1191.49" x2="728.00" y2="1191.49" stroke="#000" stroke-width="1.55"/>
<text transform="translate(628.20 1215.50) rotate(-45) scale(1.0500 1)" style="font-size:11.05px" text-anchor="end">Expressed genes</text>
<text transform="translate(674.30 1215.50) rotate(-45) scale(1.0500 1)" style="font-size:11.05px" text-anchor="end">Activatable genes</text>
<text transform="translate(720.50 1215.50) rotate(-45) scale(1.0500 1)" style="font-size:11.05px" text-anchor="end">Occluded genes</text>
<line x1="596.80" y1="1049.40" x2="596.80" y2="1207.90" stroke="#000" stroke-width="1.8"/>
<line x1="592.20" y1="1207.00" x2="596.80" y2="1207.00" stroke="#000" stroke-width="1.8"/>
<text transform="translate(588.60 1210.80) scale(1.0500 1)" style="font-size:11.43px" text-anchor="end">0</text>
<line x1="592.20" y1="1175.66" x2="596.80" y2="1175.66" stroke="#000" stroke-width="1.8"/>
<text transform="translate(588.60 1179.46) scale(1.0500 1)" style="font-size:11.43px" text-anchor="end">20%</text>
<line x1="592.20" y1="1144.32" x2="596.80" y2="1144.32" stroke="#000" stroke-width="1.8"/>
<text transform="translate(588.60 1148.12) scale(1.0500 1)" style="font-size:11.43px" text-anchor="end">40%</text>
<line x1="592.20" y1="1112.98" x2="596.80" y2="1112.98" stroke="#000" stroke-width="1.8"/>
<text transform="translate(588.60 1116.78) scale(1.0500 1)" style="font-size:11.43px" text-anchor="end">60%</text>
<line x1="592.20" y1="1081.64" x2="596.80" y2="1081.64" stroke="#000" stroke-width="1.8"/>
<text transform="translate(588.60 1085.44) scale(1.0500 1)" style="font-size:11.43px" text-anchor="end">80%</text>
<line x1="592.20" y1="1050.30" x2="596.80" y2="1050.30" stroke="#000" stroke-width="1.8"/>
<text transform="translate(588.60 1054.10) scale(1.0500 1)" style="font-size:11.43px" text-anchor="end">100%</text>
<text transform="translate(543.00 1127.50) rotate(-90) scale(1.0500 1)" style="font-size:11.14px" text-anchor="middle">% of genes having CpG island</text>
<text transform="translate(557.70 1126.20) rotate(-90) scale(1.0500 1)" style="font-size:11.14px" text-anchor="middle">or TATA box promoters</text>
<rect x="635.50" y="1060.20" width="8.80" height="8.30" fill="#383838" stroke="#000" stroke-width="1.4"/>
<text transform="translate(649.00 1068.40) scale(1.0500 1)" style="font-size:11.14px" text-anchor="start">CpG island promoters</text>
<rect x="635.50" y="1073.00" width="8.80" height="8.10" fill="#cbcbcb" stroke="#000" stroke-width="1.4"/>
<text transform="translate(649.00 1081.30) scale(1.0500 1)" style="font-size:11.14px" text-anchor="start">TATA box promoters</text>
</svg>
</body></html>
